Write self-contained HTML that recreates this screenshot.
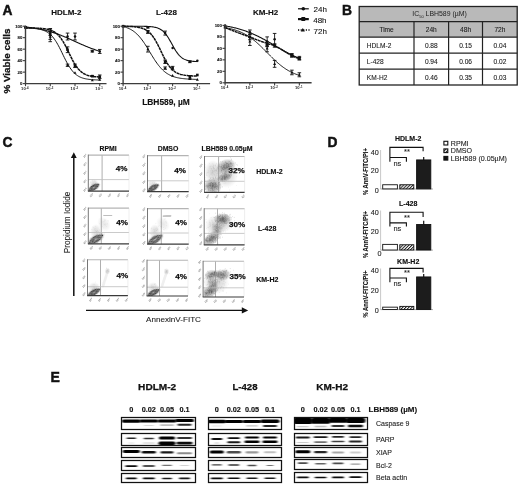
<!DOCTYPE html>
<html lang="en"><head><meta charset="utf-8"><title>Figure</title>
<style>html,body{margin:0;padding:0;background:#fff}svg{display:block}</style></head>
<body>
<svg width="520" height="485" viewBox="0 0 520 485" font-family='"Liberation Sans", sans-serif'>
<defs>
<filter id="b1" x="-30%" y="-100%" width="160%" height="300%"><feGaussianBlur stdDeviation="0.9 0.5"/></filter>
<filter id="b2" x="-30%" y="-100%" width="160%" height="300%"><feGaussianBlur stdDeviation="1.2 0.65"/></filter>
<filter id="bf" x="-20%" y="-20%" width="140%" height="140%"><feGaussianBlur stdDeviation="0.35"/></filter>
<filter id="soft" x="-5%" y="-5%" width="110%" height="110%"><feGaussianBlur stdDeviation="0.3"/></filter>
<pattern id="hatch" width="2.2" height="2.2" patternUnits="userSpaceOnUse" patternTransform="rotate(-45)"><rect width="2.2" height="2.2" fill="#fff"/><rect width="2.2" height="1.0" fill="#222"/></pattern>
</defs>
<rect width="520" height="485" fill="#fff"/>
<text x="2.6" y="14.8" font-size="13.8" font-weight="bold" text-anchor="start" fill="#111" stroke="#111" stroke-width="0.45" >A</text>
<text transform="translate(10.2,93.6) rotate(-90)" font-size="9.9" font-weight="bold" fill="#111" stroke="#111" stroke-width="0.3">% Viable cells</text>
<g transform="translate(0,0)">
<path d="M25.50,26.99 L26.32,27.08 L27.15,27.17 L27.98,27.26 L28.80,27.36 L29.62,27.46 L30.45,27.56 L31.28,27.67 L32.10,27.79 L32.92,27.90 L33.75,28.03 L34.58,28.15 L35.40,28.28 L36.23,28.42 L37.05,28.56 L37.88,28.71 L38.70,28.86 L39.52,29.02 L40.35,29.18 L41.17,29.35 L42.00,29.53 L42.83,29.71 L43.65,29.90 L44.47,30.09 L45.30,30.29 L46.12,30.49 L46.95,30.71 L47.77,30.93 L48.60,31.15 L49.43,31.38 L50.25,31.62 L51.07,31.87 L51.90,32.12 L52.73,32.38 L53.55,32.64 L54.38,32.91 L55.20,33.19 L56.03,33.48 L56.85,33.77 L57.67,34.06 L58.50,34.37 L59.33,34.68 L60.15,34.99 L60.98,35.32 L61.80,35.64 L62.62,35.98 L63.45,36.31 L64.27,36.66 L65.10,37.00 L65.92,37.35 L66.75,37.71 L67.58,38.07 L68.40,38.43 L69.22,38.80 L70.05,39.17 L70.88,39.54 L71.70,39.91 L72.53,40.28 L73.35,40.66 L74.18,41.03 L75.00,41.41 L75.82,41.79 L76.65,42.16 L77.47,42.54 L78.30,42.91 L79.12,43.29 L79.95,43.66 L80.78,44.03 L81.60,44.39 L82.42,44.75 L83.25,45.11 L84.08,45.47 L84.90,45.82 L85.72,46.17 L86.55,46.51 L87.38,46.85 L88.20,47.18 L89.03,47.51 L89.85,47.83 L90.67,48.14 L91.50,48.45 L92.33,48.76 L93.15,49.06 L93.97,49.35 L94.80,49.63 L95.62,49.91 L96.45,50.18 L97.27,50.45 L98.10,50.70 L98.92,50.96 L99.75,51.20" fill="none" stroke="#111" stroke-width="1.1"/>
<circle cx="25.50" cy="27.00" r="1.25" fill="#111"/>
<path d="M50.25,28.50V35.38M48.45,28.50h3.6M48.45,35.38h3.6" stroke="#111" stroke-width="0.9" fill="none"/>
<circle cx="50.25" cy="31.94" r="1.25" fill="#111"/>
<path d="M67.55,33.09V39.98M65.75,33.09h3.6M65.75,39.98h3.6" stroke="#111" stroke-width="0.9" fill="none"/>
<circle cx="67.55" cy="36.53" r="1.25" fill="#111"/>
<path d="M75.00,33.09V39.98M73.20,33.09h3.6M73.20,39.98h3.6" stroke="#111" stroke-width="0.9" fill="none"/>
<circle cx="75.00" cy="36.53" r="1.25" fill="#111"/>
<path d="M92.30,50.31V52.03M90.50,50.31h3.6M90.50,52.03h3.6" stroke="#111" stroke-width="0.9" fill="none"/>
<circle cx="92.30" cy="51.17" r="1.25" fill="#111"/>
<path d="M99.75,49.45V53.46M97.95,49.45h3.6M97.95,53.46h3.6" stroke="#111" stroke-width="0.9" fill="none"/>
<circle cx="99.75" cy="51.46" r="1.25" fill="#111"/>
<path d="M25.50,27.96 L26.32,27.96 L27.15,27.97 L27.98,27.97 L28.80,27.98 L29.62,27.99 L30.45,28.00 L31.28,28.01 L32.10,28.03 L32.92,28.04 L33.75,28.06 L34.58,28.08 L35.40,28.10 L36.23,28.13 L37.05,28.16 L37.88,28.20 L38.70,28.24 L39.52,28.29 L40.35,28.34 L41.17,28.40 L42.00,28.47 L42.83,28.55 L43.65,28.64 L44.47,28.75 L45.30,28.87 L46.12,29.00 L46.95,29.16 L47.77,29.34 L48.60,29.54 L49.43,29.77 L50.25,30.03 L51.07,30.33 L51.90,30.67 L52.73,31.05 L53.55,31.48 L54.38,31.96 L55.20,32.50 L56.03,33.11 L56.85,33.79 L57.67,34.54 L58.50,35.37 L59.33,36.29 L60.15,37.30 L60.98,38.39 L61.80,39.58 L62.62,40.85 L63.45,42.21 L64.27,43.65 L65.10,45.17 L65.92,46.75 L66.75,48.38 L67.58,50.06 L68.40,51.75 L69.22,53.46 L70.05,55.15 L70.88,56.82 L71.70,58.46 L72.53,60.04 L73.35,61.55 L74.18,63.00 L75.00,64.36 L75.82,65.63 L76.65,66.82 L77.47,67.91 L78.30,68.92 L79.12,69.83 L79.95,70.67 L80.78,71.42 L81.60,72.10 L82.42,72.70 L83.25,73.25 L84.08,73.73 L84.90,74.16 L85.72,74.54 L86.55,74.88 L87.38,75.18 L88.20,75.44 L89.03,75.67 L89.85,75.87 L90.67,76.05 L91.50,76.21 L92.33,76.34 L93.15,76.46 L93.97,76.57 L94.80,76.66 L95.62,76.74 L96.45,76.81 L97.27,76.87 L98.10,76.92 L98.92,76.97 L99.75,77.01" fill="none" stroke="#111" stroke-width="1.5" stroke-dasharray="3 0.5"/>
<rect x="24.20" y="26.05" width="2.6" height="2.6" fill="#111"/>
<path d="M50.25,29.07V39.40M48.45,29.07h3.6M48.45,39.40h3.6" stroke="#111" stroke-width="0.9" fill="none"/>
<rect x="48.95" y="32.94" width="2.6" height="2.6" fill="#111"/>
<path d="M67.55,46.86V52.60M65.75,46.86h3.6M65.75,52.60h3.6" stroke="#111" stroke-width="0.9" fill="none"/>
<rect x="66.25" y="48.43" width="2.6" height="2.6" fill="#111"/>
<path d="M75.00,64.08V67.53M73.20,64.08h3.6M73.20,67.53h3.6" stroke="#111" stroke-width="0.9" fill="none"/>
<rect x="73.70" y="64.51" width="2.6" height="2.6" fill="#111"/>
<path d="M92.30,75.68V76.60M90.50,75.68h3.6M90.50,76.60h3.6" stroke="#111" stroke-width="0.9" fill="none"/>
<rect x="91.00" y="74.84" width="2.6" height="2.6" fill="#111"/>
<path d="M99.75,74.99V78.43M97.95,74.99h3.6M97.95,78.43h3.6" stroke="#111" stroke-width="0.9" fill="none"/>
<rect x="98.45" y="75.41" width="2.6" height="2.6" fill="#111"/>
<path d="M25.50,28.07 L26.32,28.09 L27.15,28.11 L27.98,28.14 L28.80,28.17 L29.62,28.20 L30.45,28.24 L31.28,28.29 L32.10,28.34 L32.92,28.39 L33.75,28.46 L34.58,28.53 L35.40,28.62 L36.23,28.71 L37.05,28.82 L37.88,28.94 L38.70,29.08 L39.52,29.24 L40.35,29.42 L41.17,29.62 L42.00,29.85 L42.83,30.11 L43.65,30.40 L44.47,30.72 L45.30,31.09 L46.12,31.50 L46.95,31.96 L47.77,32.48 L48.60,33.05 L49.43,33.68 L50.25,34.39 L51.07,35.16 L51.90,36.02 L52.73,36.95 L53.55,37.97 L54.38,39.07 L55.20,40.25 L56.03,41.52 L56.85,42.88 L57.67,44.31 L58.50,45.81 L59.33,47.37 L60.15,48.99 L60.98,50.65 L61.80,52.34 L62.62,54.04 L63.45,55.74 L64.27,57.43 L65.10,59.09 L65.92,60.70 L66.75,62.27 L67.58,63.77 L68.40,65.20 L69.22,66.55 L70.05,67.82 L70.88,69.01 L71.70,70.11 L72.53,71.13 L73.35,72.06 L74.18,72.91 L75.00,73.69 L75.82,74.39 L76.65,75.03 L77.47,75.60 L78.30,76.12 L79.12,76.58 L79.95,76.99 L80.78,77.35 L81.60,77.68 L82.42,77.97 L83.25,78.23 L84.08,78.46 L84.90,78.66 L85.72,78.84 L86.55,78.99 L87.38,79.13 L88.20,79.26 L89.03,79.37 L89.85,79.46 L90.67,79.54 L91.50,79.62 L92.33,79.68 L93.15,79.74 L93.97,79.79 L94.80,79.84 L95.62,79.87 L96.45,79.91 L97.27,79.94 L98.10,79.97 L98.92,79.99 L99.75,80.01" fill="none" stroke="#151515" stroke-width="1.0"/>
<path d="M25.50,25.85l1.5,2.6h-3z" fill="#111"/>
<path d="M50.25,31.37V41.70M48.45,31.37h3.6M48.45,41.70h3.6" stroke="#111" stroke-width="0.9" fill="none"/>
<path d="M50.25,35.03l1.5,2.6h-3z" fill="#111"/>
<path d="M67.55,64.08V66.38M65.75,64.08h3.6M65.75,66.38h3.6" stroke="#111" stroke-width="0.9" fill="none"/>
<path d="M67.55,63.73l1.5,2.6h-3z" fill="#111"/>
<path d="M75.00,71.19l1.5,2.6h-3z" fill="#111"/>
<path d="M92.30,78.66l1.5,2.6h-3z" fill="#111"/>
<path d="M99.75,78.08l1.5,2.6h-3z" fill="#111"/>
<path d="M25.5,25.7V83.6H106.5" fill="none" stroke="#3c3c3c" stroke-width="1.4"/>
<path d="M22.9,83.60h2.6" stroke="#3c3c3c" stroke-width="1.1"/>
<text x="22.3" y="85.10" font-size="4.3" font-weight="bold" text-anchor="end" fill="#222" stroke="#222" stroke-width="0.14" >0</text>
<path d="M22.9,72.12h2.6" stroke="#3c3c3c" stroke-width="1.1"/>
<text x="22.3" y="73.62" font-size="4.3" font-weight="bold" text-anchor="end" fill="#222" stroke="#222" stroke-width="0.14" >20</text>
<path d="M22.9,60.64h2.6" stroke="#3c3c3c" stroke-width="1.1"/>
<text x="22.3" y="62.14" font-size="4.3" font-weight="bold" text-anchor="end" fill="#222" stroke="#222" stroke-width="0.14" >40</text>
<path d="M22.9,49.16h2.6" stroke="#3c3c3c" stroke-width="1.1"/>
<text x="22.3" y="50.66" font-size="4.3" font-weight="bold" text-anchor="end" fill="#222" stroke="#222" stroke-width="0.14" >60</text>
<path d="M22.9,37.68h2.6" stroke="#3c3c3c" stroke-width="1.1"/>
<text x="22.3" y="39.18" font-size="4.3" font-weight="bold" text-anchor="end" fill="#222" stroke="#222" stroke-width="0.14" >80</text>
<path d="M22.9,26.20h2.6" stroke="#3c3c3c" stroke-width="1.1"/>
<text x="22.3" y="27.70" font-size="4.3" font-weight="bold" text-anchor="end" fill="#222" stroke="#222" stroke-width="0.14" >100</text>
<path d="M25.5,83.6v2.6" stroke="#3c3c3c" stroke-width="1.1"/>
<text x="24.9" y="90.2" font-size="4.1" font-weight="bold" text-anchor="middle" fill="#222">10<tspan dy="-1.4" dx="0.5" font-size="2.8">-4</tspan></text>
<path d="M50.25,83.6v2.6" stroke="#3c3c3c" stroke-width="1.1"/>
<text x="49.65" y="90.2" font-size="4.1" font-weight="bold" text-anchor="middle" fill="#222">10<tspan dy="-1.4" dx="0.5" font-size="2.8">-3</tspan></text>
<path d="M75.0,83.6v2.6" stroke="#3c3c3c" stroke-width="1.1"/>
<text x="74.4" y="90.2" font-size="4.1" font-weight="bold" text-anchor="middle" fill="#222">10<tspan dy="-1.4" dx="0.5" font-size="2.8">-2</tspan></text>
<path d="M99.75,83.6v2.6" stroke="#3c3c3c" stroke-width="1.1"/>
<text x="99.15" y="90.2" font-size="4.1" font-weight="bold" text-anchor="middle" fill="#222">10<tspan dy="-1.4" dx="0.5" font-size="2.8">-1</tspan></text>
</g>
<text x="66.3" y="15.3" font-size="8" font-weight="bold" text-anchor="middle" fill="#111" stroke="#111" stroke-width="0.14" >HDLM-2</text>
<g transform="translate(0,0)">
<path d="M123.10,26.20 L123.92,26.20 L124.75,26.20 L125.58,26.20 L126.40,26.20 L127.22,26.20 L128.05,26.20 L128.88,26.21 L129.70,26.21 L130.52,26.21 L131.35,26.21 L132.17,26.21 L133.00,26.21 L133.82,26.21 L134.65,26.22 L135.47,26.22 L136.30,26.22 L137.12,26.23 L137.95,26.23 L138.78,26.24 L139.60,26.25 L140.43,26.26 L141.25,26.27 L142.07,26.28 L142.90,26.29 L143.72,26.31 L144.55,26.33 L145.38,26.36 L146.20,26.39 L147.03,26.42 L147.85,26.46 L148.67,26.51 L149.50,26.56 L150.32,26.63 L151.15,26.71 L151.97,26.80 L152.80,26.91 L153.62,27.03 L154.45,27.18 L155.27,27.36 L156.10,27.56 L156.93,27.80 L157.75,28.08 L158.57,28.40 L159.40,28.78 L160.22,29.21 L161.05,29.71 L161.88,30.28 L162.70,30.93 L163.52,31.67 L164.35,32.50 L165.18,33.42 L166.00,34.44 L166.82,35.56 L167.65,36.77 L168.47,38.07 L169.30,39.44 L170.12,40.87 L170.95,42.35 L171.78,43.84 L172.60,45.34 L173.42,46.82 L174.25,48.27 L175.07,49.65 L175.90,50.96 L176.72,52.19 L177.55,53.33 L178.38,54.37 L179.20,55.31 L180.02,56.16 L180.85,56.91 L181.68,57.58 L182.50,58.17 L183.32,58.68 L184.15,59.13 L184.97,59.51 L185.80,59.85 L186.62,60.14 L187.45,60.38 L188.27,60.59 L189.10,60.77 L189.93,60.93 L190.75,61.06 L191.57,61.17 L192.40,61.26 L193.22,61.34 L194.05,61.41 L194.88,61.47 L195.70,61.52 L196.52,61.56 L197.35,61.60" fill="none" stroke="#111" stroke-width="1.1"/>
<circle cx="123.10" cy="26.20" r="1.25" fill="#111"/>
<path d="M147.85,26.66V28.04M146.05,26.66h3.6M146.05,28.04h3.6" stroke="#111" stroke-width="0.9" fill="none"/>
<circle cx="147.85" cy="27.35" r="1.25" fill="#111"/>
<path d="M165.15,31.08V35.10M163.35,31.08h3.6M163.35,35.10h3.6" stroke="#111" stroke-width="0.9" fill="none"/>
<circle cx="165.15" cy="33.09" r="1.25" fill="#111"/>
<circle cx="172.60" cy="48.01" r="1.25" fill="#111"/>
<path d="M189.90,60.93V62.65M188.10,60.93h3.6M188.10,62.65h3.6" stroke="#111" stroke-width="0.9" fill="none"/>
<circle cx="189.90" cy="61.79" r="1.25" fill="#111"/>
<circle cx="197.35" cy="60.64" r="1.25" fill="#111"/>
<path d="M123.10,26.29 L123.92,26.30 L124.75,26.32 L125.58,26.33 L126.40,26.35 L127.22,26.37 L128.05,26.40 L128.88,26.43 L129.70,26.46 L130.52,26.50 L131.35,26.55 L132.17,26.60 L133.00,26.66 L133.82,26.72 L134.65,26.80 L135.47,26.89 L136.30,26.99 L137.12,27.10 L137.95,27.24 L138.78,27.39 L139.60,27.56 L140.43,27.75 L141.25,27.97 L142.07,28.23 L142.90,28.51 L143.72,28.84 L144.55,29.20 L145.38,29.62 L146.20,30.08 L147.03,30.61 L147.85,31.20 L148.67,31.85 L149.50,32.58 L150.32,33.39 L151.15,34.29 L151.97,35.27 L152.80,36.34 L153.62,37.50 L154.45,38.75 L155.27,40.09 L156.10,41.52 L156.93,43.03 L157.75,44.60 L158.57,46.23 L159.40,47.91 L160.22,49.62 L161.05,51.34 L161.88,53.06 L162.70,54.77 L163.52,56.44 L164.35,58.06 L165.18,59.62 L166.00,61.11 L166.82,62.52 L167.65,63.84 L168.47,65.08 L169.30,66.22 L170.12,67.28 L170.95,68.24 L171.78,69.11 L172.60,69.91 L173.42,70.62 L174.25,71.26 L175.07,71.84 L175.90,72.35 L176.72,72.81 L177.55,73.21 L178.38,73.57 L179.20,73.89 L180.02,74.17 L180.85,74.41 L181.68,74.63 L182.50,74.82 L183.32,74.98 L184.15,75.13 L184.97,75.26 L185.80,75.37 L186.62,75.47 L187.45,75.55 L188.27,75.63 L189.10,75.69 L189.93,75.75 L190.75,75.80 L191.57,75.84 L192.40,75.88 L193.22,75.91 L194.05,75.94 L194.88,75.97 L195.70,75.99 L196.52,76.01 L197.35,76.03" fill="none" stroke="#111" stroke-width="1.5" stroke-dasharray="3 0.5"/>
<rect x="121.80" y="24.90" width="2.6" height="2.6" fill="#111"/>
<path d="M147.85,30.50V33.38M146.05,30.50h3.6M146.05,33.38h3.6" stroke="#111" stroke-width="0.9" fill="none"/>
<rect x="146.55" y="30.64" width="2.6" height="2.6" fill="#111"/>
<path d="M165.15,60.07V63.51M163.35,60.07h3.6M163.35,63.51h3.6" stroke="#111" stroke-width="0.9" fill="none"/>
<rect x="163.85" y="60.49" width="2.6" height="2.6" fill="#111"/>
<path d="M172.60,66.38V69.82M170.80,66.38h3.6M170.80,69.82h3.6" stroke="#111" stroke-width="0.9" fill="none"/>
<rect x="171.30" y="66.80" width="2.6" height="2.6" fill="#111"/>
<path d="M189.90,75.56V79.01M188.10,75.56h3.6M188.10,79.01h3.6" stroke="#111" stroke-width="0.9" fill="none"/>
<rect x="188.60" y="75.99" width="2.6" height="2.6" fill="#111"/>
<rect x="196.05" y="73.69" width="2.6" height="2.6" fill="#111"/>
<path d="M123.10,26.57 L123.92,26.78 L124.75,27.01 L125.58,27.26 L126.40,27.54 L127.22,27.84 L128.05,28.17 L128.88,28.53 L129.70,28.92 L130.52,29.34 L131.35,29.80 L132.17,30.30 L133.00,30.84 L133.82,31.43 L134.65,32.06 L135.47,32.73 L136.30,33.46 L137.12,34.23 L137.95,35.06 L138.78,35.94 L139.60,36.87 L140.43,37.86 L141.25,38.89 L142.07,39.98 L142.90,41.12 L143.72,42.30 L144.55,43.52 L145.38,44.78 L146.20,46.08 L147.03,47.40 L147.85,48.75 L148.67,50.11 L149.50,51.48 L150.32,52.85 L151.15,54.22 L151.97,55.58 L152.80,56.93 L153.62,58.24 L154.45,59.53 L155.27,60.79 L156.10,62.00 L156.93,63.18 L157.75,64.30 L158.57,65.38 L159.40,66.40 L160.22,67.38 L161.05,68.30 L161.88,69.17 L162.70,69.99 L163.52,70.75 L164.35,71.47 L165.18,72.13 L166.00,72.75 L166.82,73.33 L167.65,73.86 L168.47,74.35 L169.30,74.81 L170.12,75.22 L170.95,75.61 L171.78,75.96 L172.60,76.28 L173.42,76.58 L174.25,76.85 L175.07,77.10 L175.90,77.32 L176.72,77.53 L177.55,77.72 L178.38,77.89 L179.20,78.05 L180.02,78.19 L180.85,78.32 L181.68,78.44 L182.50,78.54 L183.32,78.64 L184.15,78.73 L184.97,78.81 L185.80,78.88 L186.62,78.95 L187.45,79.01 L188.27,79.06 L189.10,79.11 L189.93,79.15 L190.75,79.19 L191.57,79.23 L192.40,79.26 L193.22,79.29 L194.05,79.32 L194.88,79.35 L195.70,79.37 L196.52,79.39 L197.35,79.41" fill="none" stroke="#151515" stroke-width="1.0"/>
<path d="M123.10,24.70l1.5,2.6h-3z" fill="#111"/>
<path d="M147.85,46.29V52.03M146.05,46.29h3.6M146.05,52.03h3.6" stroke="#111" stroke-width="0.9" fill="none"/>
<path d="M147.85,47.66l1.5,2.6h-3z" fill="#111"/>
<path d="M165.15,66.95V69.25M163.35,66.95h3.6M163.35,69.25h3.6" stroke="#111" stroke-width="0.9" fill="none"/>
<path d="M165.15,66.60l1.5,2.6h-3z" fill="#111"/>
<path d="M172.60,74.06l1.5,2.6h-3z" fill="#111"/>
<path d="M189.90,77.51l1.5,2.6h-3z" fill="#111"/>
<path d="M197.35,78.08l1.5,2.6h-3z" fill="#111"/>
<path d="M123.1,25.7V83.6H210.1" fill="none" stroke="#3c3c3c" stroke-width="1.4"/>
<path d="M120.5,83.60h2.6" stroke="#3c3c3c" stroke-width="1.1"/>
<text x="119.89999999999999" y="85.10" font-size="4.3" font-weight="bold" text-anchor="end" fill="#222" stroke="#222" stroke-width="0.14" >0</text>
<path d="M120.5,72.12h2.6" stroke="#3c3c3c" stroke-width="1.1"/>
<text x="119.89999999999999" y="73.62" font-size="4.3" font-weight="bold" text-anchor="end" fill="#222" stroke="#222" stroke-width="0.14" >20</text>
<path d="M120.5,60.64h2.6" stroke="#3c3c3c" stroke-width="1.1"/>
<text x="119.89999999999999" y="62.14" font-size="4.3" font-weight="bold" text-anchor="end" fill="#222" stroke="#222" stroke-width="0.14" >40</text>
<path d="M120.5,49.16h2.6" stroke="#3c3c3c" stroke-width="1.1"/>
<text x="119.89999999999999" y="50.66" font-size="4.3" font-weight="bold" text-anchor="end" fill="#222" stroke="#222" stroke-width="0.14" >60</text>
<path d="M120.5,37.68h2.6" stroke="#3c3c3c" stroke-width="1.1"/>
<text x="119.89999999999999" y="39.18" font-size="4.3" font-weight="bold" text-anchor="end" fill="#222" stroke="#222" stroke-width="0.14" >80</text>
<path d="M120.5,26.20h2.6" stroke="#3c3c3c" stroke-width="1.1"/>
<text x="119.89999999999999" y="27.70" font-size="4.3" font-weight="bold" text-anchor="end" fill="#222" stroke="#222" stroke-width="0.14" >100</text>
<path d="M123.1,83.6v2.6" stroke="#3c3c3c" stroke-width="1.1"/>
<text x="122.5" y="90.2" font-size="4.1" font-weight="bold" text-anchor="middle" fill="#222">10<tspan dy="-1.4" dx="0.5" font-size="2.8">-4</tspan></text>
<path d="M147.85,83.6v2.6" stroke="#3c3c3c" stroke-width="1.1"/>
<text x="147.25" y="90.2" font-size="4.1" font-weight="bold" text-anchor="middle" fill="#222">10<tspan dy="-1.4" dx="0.5" font-size="2.8">-3</tspan></text>
<path d="M172.6,83.6v2.6" stroke="#3c3c3c" stroke-width="1.1"/>
<text x="172.0" y="90.2" font-size="4.1" font-weight="bold" text-anchor="middle" fill="#222">10<tspan dy="-1.4" dx="0.5" font-size="2.8">-2</tspan></text>
<path d="M197.35,83.6v2.6" stroke="#3c3c3c" stroke-width="1.1"/>
<text x="196.75" y="90.2" font-size="4.1" font-weight="bold" text-anchor="middle" fill="#222">10<tspan dy="-1.4" dx="0.5" font-size="2.8">-1</tspan></text>
</g>
<text x="166.4" y="15.3" font-size="8" font-weight="bold" text-anchor="middle" fill="#111" stroke="#111" stroke-width="0.14" >L-428</text>
<g transform="translate(0,-0.8)">
<path d="M225.10,26.71 L225.92,26.84 L226.75,26.98 L227.57,27.13 L228.40,27.28 L229.22,27.43 L230.05,27.59 L230.88,27.76 L231.70,27.93 L232.52,28.11 L233.35,28.29 L234.17,28.48 L235.00,28.68 L235.82,28.88 L236.65,29.09 L237.47,29.31 L238.30,29.53 L239.12,29.76 L239.95,30.00 L240.78,30.24 L241.60,30.49 L242.43,30.75 L243.25,31.02 L244.07,31.29 L244.90,31.57 L245.72,31.86 L246.55,32.16 L247.38,32.46 L248.20,32.78 L249.03,33.10 L249.85,33.43 L250.67,33.76 L251.50,34.11 L252.32,34.46 L253.15,34.82 L253.97,35.19 L254.80,35.56 L255.62,35.94 L256.45,36.33 L257.27,36.73 L258.10,37.14 L258.93,37.55 L259.75,37.96 L260.57,38.39 L261.40,38.82 L262.23,39.25 L263.05,39.70 L263.88,40.14 L264.70,40.60 L265.52,41.05 L266.35,41.51 L267.18,41.98 L268.00,42.45 L268.82,42.92 L269.65,43.40 L270.47,43.88 L271.30,44.36 L272.12,44.84 L272.95,45.32 L273.77,45.81 L274.60,46.29 L275.43,46.77 L276.25,47.26 L277.07,47.74 L277.90,48.22 L278.72,48.70 L279.55,49.18 L280.38,49.66 L281.20,50.13 L282.02,50.60 L282.85,51.07 L283.68,51.53 L284.50,51.98 L285.32,52.44 L286.15,52.88 L286.98,53.33 L287.80,53.76 L288.62,54.19 L289.45,54.62 L290.27,55.03 L291.10,55.44 L291.93,55.85 L292.75,56.25 L293.57,56.64 L294.40,57.02 L295.23,57.39 L296.05,57.76 L296.88,58.12 L297.70,58.47 L298.52,58.82 L299.35,59.15" fill="none" stroke="#111" stroke-width="1.1"/>
<circle cx="225.10" cy="26.20" r="1.25" fill="#111"/>
<path d="M249.85,30.79V35.38M248.05,30.79h3.6M248.05,35.38h3.6" stroke="#111" stroke-width="0.9" fill="none"/>
<circle cx="249.85" cy="33.09" r="1.25" fill="#111"/>
<path d="M267.15,37.68V46.86M265.35,37.68h3.6M265.35,46.86h3.6" stroke="#111" stroke-width="0.9" fill="none"/>
<circle cx="267.15" cy="42.27" r="1.25" fill="#111"/>
<path d="M274.60,34.24V45.72M272.80,34.24h3.6M272.80,45.72h3.6" stroke="#111" stroke-width="0.9" fill="none"/>
<circle cx="274.60" cy="39.98" r="1.25" fill="#111"/>
<path d="M291.90,54.33V57.77M290.10,54.33h3.6M290.10,57.77h3.6" stroke="#111" stroke-width="0.9" fill="none"/>
<circle cx="291.90" cy="56.05" r="1.25" fill="#111"/>
<path d="M299.35,57.20V60.64M297.55,57.20h3.6M297.55,60.64h3.6" stroke="#111" stroke-width="0.9" fill="none"/>
<circle cx="299.35" cy="58.92" r="1.25" fill="#111"/>
<path d="M225.10,28.50 L225.92,28.80 L226.75,29.11 L227.57,29.43 L228.40,29.74 L229.22,30.06 L230.05,30.38 L230.88,30.70 L231.70,31.02 L232.52,31.34 L233.35,31.66 L234.17,31.99 L235.00,32.31 L235.82,32.63 L236.65,32.95 L237.47,33.27 L238.30,33.58 L239.12,33.90 L239.95,34.21 L240.78,34.52 L241.60,34.83 L242.43,35.14 L243.25,35.44 L244.07,35.73 L244.90,36.03 L245.72,36.32 L246.55,36.60 L247.38,36.88 L248.20,37.15 L249.03,37.42 L249.85,37.68 L250.67,38.05 L251.50,38.41 L252.32,38.76 L253.15,39.11 L253.97,39.46 L254.80,39.80 L255.62,40.13 L256.45,40.45 L257.27,40.77 L258.10,41.08 L258.93,41.39 L259.75,41.68 L260.57,41.97 L261.40,42.26 L262.23,42.53 L263.05,42.80 L263.88,43.05 L264.70,43.30 L265.52,43.55 L266.35,43.78 L267.18,44.01 L268.00,44.44 L268.82,44.75 L269.65,44.98 L270.47,45.16 L271.30,45.35 L272.12,45.57 L272.95,45.87 L273.77,46.29 L274.60,46.86 L275.43,47.17 L276.25,47.52 L277.07,47.90 L277.90,48.31 L278.72,48.74 L279.55,49.20 L280.38,49.68 L281.20,50.17 L282.02,50.67 L282.85,51.17 L283.68,51.68 L284.50,52.19 L285.32,52.69 L286.15,53.19 L286.98,53.67 L287.80,54.13 L288.62,54.57 L289.45,54.99 L290.27,55.38 L291.10,55.74 L291.93,56.07 L292.75,56.70 L293.57,57.21 L294.40,57.63 L295.23,57.98 L296.05,58.28 L296.88,58.56 L297.70,58.84 L298.52,59.14 L299.35,59.49" fill="none" stroke="#111" stroke-width="1.5" stroke-dasharray="3 0.5"/>
<rect x="223.80" y="26.62" width="2.6" height="2.6" fill="#111"/>
<path d="M249.85,34.81V40.55M248.05,34.81h3.6M248.05,40.55h3.6" stroke="#111" stroke-width="0.9" fill="none"/>
<rect x="248.55" y="36.38" width="2.6" height="2.6" fill="#111"/>
<path d="M267.15,42.85V47.44M265.35,42.85h3.6M265.35,47.44h3.6" stroke="#111" stroke-width="0.9" fill="none"/>
<rect x="265.85" y="43.84" width="2.6" height="2.6" fill="#111"/>
<path d="M274.60,44.57V48.01M272.80,44.57h3.6M272.80,48.01h3.6" stroke="#111" stroke-width="0.9" fill="none"/>
<rect x="273.30" y="44.99" width="2.6" height="2.6" fill="#111"/>
<path d="M291.90,55.47V57.77M290.10,55.47h3.6M290.10,57.77h3.6" stroke="#111" stroke-width="0.9" fill="none"/>
<rect x="290.60" y="55.32" width="2.6" height="2.6" fill="#111"/>
<path d="M299.35,58.34V60.64M297.55,58.34h3.6M297.55,60.64h3.6" stroke="#111" stroke-width="0.9" fill="none"/>
<rect x="298.05" y="58.19" width="2.6" height="2.6" fill="#111"/>
<path d="M225.10,28.48 L225.92,28.62 L226.75,28.76 L227.57,28.92 L228.40,29.08 L229.22,29.25 L230.05,29.44 L230.88,29.63 L231.70,29.83 L232.52,30.04 L233.35,30.27 L234.17,30.51 L235.00,30.76 L235.82,31.02 L236.65,31.30 L237.47,31.59 L238.30,31.89 L239.12,32.21 L239.95,32.55 L240.78,32.90 L241.60,33.27 L242.43,33.66 L243.25,34.06 L244.07,34.49 L244.90,34.93 L245.72,35.39 L246.55,35.87 L247.38,36.36 L248.20,36.88 L249.03,37.42 L249.85,37.98 L250.67,38.55 L251.50,39.15 L252.32,39.76 L253.15,40.40 L253.97,41.05 L254.80,41.73 L255.62,42.42 L256.45,43.13 L257.27,43.85 L258.10,44.59 L258.93,45.35 L259.75,46.12 L260.57,46.90 L261.40,47.69 L262.23,48.50 L263.05,49.31 L263.88,50.13 L264.70,50.96 L265.52,51.79 L266.35,52.63 L267.18,53.46 L268.00,54.30 L268.82,55.14 L269.65,55.97 L270.47,56.80 L271.30,57.62 L272.12,58.43 L272.95,59.24 L273.77,60.03 L274.60,60.81 L275.43,61.58 L276.25,62.34 L277.07,63.08 L277.90,63.80 L278.72,64.51 L279.55,65.20 L280.38,65.88 L281.20,66.53 L282.02,67.17 L282.85,67.78 L283.68,68.38 L284.50,68.95 L285.32,69.51 L286.15,70.05 L286.98,70.57 L287.80,71.06 L288.62,71.54 L289.45,72.00 L290.27,72.44 L291.10,72.87 L291.93,73.27 L292.75,73.66 L293.57,74.03 L294.40,74.38 L295.23,74.72 L296.05,75.04 L296.88,75.34 L297.70,75.63 L298.52,75.91 L299.35,76.17" fill="none" stroke="#151515" stroke-width="1.0"/>
<path d="M225.10,26.42l1.5,2.6h-3z" fill="#111"/>
<path d="M249.85,38.25V46.29M248.05,38.25h3.6M248.05,46.29h3.6" stroke="#111" stroke-width="0.9" fill="none"/>
<path d="M249.85,40.77l1.5,2.6h-3z" fill="#111"/>
<path d="M267.15,45.72V52.60M265.35,45.72h3.6M265.35,52.60h3.6" stroke="#111" stroke-width="0.9" fill="none"/>
<path d="M267.15,47.66l1.5,2.6h-3z" fill="#111"/>
<path d="M274.60,61.21V68.10M272.80,61.21h3.6M272.80,68.10h3.6" stroke="#111" stroke-width="0.9" fill="none"/>
<path d="M274.60,63.16l1.5,2.6h-3z" fill="#111"/>
<path d="M291.90,70.97V75.56M290.10,70.97h3.6M290.10,75.56h3.6" stroke="#111" stroke-width="0.9" fill="none"/>
<path d="M291.90,71.77l1.5,2.6h-3z" fill="#111"/>
<path d="M299.35,73.55V77.57M297.55,73.55h3.6M297.55,77.57h3.6" stroke="#111" stroke-width="0.9" fill="none"/>
<path d="M299.35,74.06l1.5,2.6h-3z" fill="#111"/>
<path d="M225.1,25.7V83.6H311.6" fill="none" stroke="#3c3c3c" stroke-width="1.4"/>
<path d="M222.5,83.60h2.6" stroke="#3c3c3c" stroke-width="1.1"/>
<text x="221.9" y="85.10" font-size="4.3" font-weight="bold" text-anchor="end" fill="#222" stroke="#222" stroke-width="0.14" >0</text>
<path d="M222.5,72.12h2.6" stroke="#3c3c3c" stroke-width="1.1"/>
<text x="221.9" y="73.62" font-size="4.3" font-weight="bold" text-anchor="end" fill="#222" stroke="#222" stroke-width="0.14" >20</text>
<path d="M222.5,60.64h2.6" stroke="#3c3c3c" stroke-width="1.1"/>
<text x="221.9" y="62.14" font-size="4.3" font-weight="bold" text-anchor="end" fill="#222" stroke="#222" stroke-width="0.14" >40</text>
<path d="M222.5,49.16h2.6" stroke="#3c3c3c" stroke-width="1.1"/>
<text x="221.9" y="50.66" font-size="4.3" font-weight="bold" text-anchor="end" fill="#222" stroke="#222" stroke-width="0.14" >60</text>
<path d="M222.5,37.68h2.6" stroke="#3c3c3c" stroke-width="1.1"/>
<text x="221.9" y="39.18" font-size="4.3" font-weight="bold" text-anchor="end" fill="#222" stroke="#222" stroke-width="0.14" >80</text>
<path d="M222.5,26.20h2.6" stroke="#3c3c3c" stroke-width="1.1"/>
<text x="221.9" y="27.70" font-size="4.3" font-weight="bold" text-anchor="end" fill="#222" stroke="#222" stroke-width="0.14" >100</text>
<path d="M225.1,83.6v2.6" stroke="#3c3c3c" stroke-width="1.1"/>
<text x="224.5" y="90.2" font-size="4.1" font-weight="bold" text-anchor="middle" fill="#222">10<tspan dy="-1.4" dx="0.5" font-size="2.8">-4</tspan></text>
<path d="M249.85,83.6v2.6" stroke="#3c3c3c" stroke-width="1.1"/>
<text x="249.25" y="90.2" font-size="4.1" font-weight="bold" text-anchor="middle" fill="#222">10<tspan dy="-1.4" dx="0.5" font-size="2.8">-3</tspan></text>
<path d="M274.6,83.6v2.6" stroke="#3c3c3c" stroke-width="1.1"/>
<text x="274.0" y="90.2" font-size="4.1" font-weight="bold" text-anchor="middle" fill="#222">10<tspan dy="-1.4" dx="0.5" font-size="2.8">-2</tspan></text>
<path d="M299.35,83.6v2.6" stroke="#3c3c3c" stroke-width="1.1"/>
<text x="298.75" y="90.2" font-size="4.1" font-weight="bold" text-anchor="middle" fill="#222">10<tspan dy="-1.4" dx="0.5" font-size="2.8">-1</tspan></text>
</g>
<text x="265.6" y="15.3" font-size="8" font-weight="bold" text-anchor="middle" fill="#111" stroke="#111" stroke-width="0.14" >KM-H2</text>
<text x="166" y="105.3" font-size="8.4" font-weight="bold" text-anchor="middle" fill="#111" stroke="#111" stroke-width="0.14" >LBH589, µM</text>
<path d="M298,8.8H308.8" stroke="#111" stroke-width="1.2"/><circle cx="303.3" cy="8.8" r="1.8" fill="#111"/>
<path d="M298,19.1H308.8" stroke="#111" stroke-width="2.2"/><rect x="301.2" y="17.1" width="4.2" height="4" rx="0.8" fill="#111"/>
<path d="M298,30H310" stroke="#111" stroke-width="1.3" stroke-dasharray="1.2 1.4"/><path d="M302.8,28l2.1,3.6h-4.2z" fill="#111"/>
<text x="313.6" y="12.2" font-size="8" text-anchor="start" fill="#111" stroke="#111" stroke-width="0.1" >24h</text>
<text x="313.2" y="23.2" font-size="8" text-anchor="start" fill="#111" stroke="#111" stroke-width="0.1" >48h</text>
<text x="313.6" y="33.7" font-size="8" text-anchor="start" fill="#111" stroke="#111" stroke-width="0.1" >72h</text>
<text x="341.9" y="14.8" font-size="13.8" font-weight="bold" text-anchor="start" fill="#111" stroke="#111" stroke-width="0.45" >B</text>
<rect x="359.2" y="6.5" width="158.00000000000006" height="30.6" fill="#b9b9b9"/>
<rect x="359.2" y="6.5" width="158.0" height="78.5" fill="none" stroke="#222" stroke-width="1.3"/>
<path d="M359.2,21.7H517.2" stroke="#222" stroke-width="1.2"/>
<path d="M359.2,37.1H517.2" stroke="#222" stroke-width="1.2"/>
<path d="M359.2,53.2H517.2" stroke="#222" stroke-width="1.2"/>
<path d="M359.2,69.2H517.2" stroke="#222" stroke-width="1.2"/>
<path d="M414,21.7V85.0" stroke="#222" stroke-width="1.2"/>
<path d="M448.6,21.7V85.0" stroke="#222" stroke-width="1.2"/>
<path d="M482.5,21.7V85.0" stroke="#222" stroke-width="1.2"/>
<text x="439.5" y="16.4" font-size="6.9" text-anchor="middle" fill="#222">IC<tspan dy="1.5" font-size="4">50</tspan><tspan dy="-1.5"> LBH589 (µM)</tspan></text>
<text x="386.6" y="32.0" font-size="6.6" text-anchor="middle" fill="#222" stroke="#222" stroke-width="0.1" >Time</text>
<text x="431.3" y="32.0" font-size="6.6" text-anchor="middle" fill="#222" stroke="#222" stroke-width="0.1" >24h</text>
<text x="465.6" y="32.0" font-size="6.6" text-anchor="middle" fill="#222" stroke="#222" stroke-width="0.1" >48h</text>
<text x="499.9" y="32.0" font-size="6.6" text-anchor="middle" fill="#222" stroke="#222" stroke-width="0.1" >72h</text>
<text x="366.8" y="47.6" font-size="6.6" text-anchor="start" fill="#222" stroke="#222" stroke-width="0.1" >HDLM-2</text>
<text x="431.3" y="47.6" font-size="6.6" text-anchor="middle" fill="#222" stroke="#222" stroke-width="0.1" >0.88</text>
<text x="465.6" y="47.6" font-size="6.6" text-anchor="middle" fill="#222" stroke="#222" stroke-width="0.1" >0.15</text>
<text x="499.9" y="47.6" font-size="6.6" text-anchor="middle" fill="#222" stroke="#222" stroke-width="0.1" >0.04</text>
<text x="366.8" y="63.6" font-size="6.6" text-anchor="start" fill="#222" stroke="#222" stroke-width="0.1" >L-428</text>
<text x="431.3" y="63.6" font-size="6.6" text-anchor="middle" fill="#222" stroke="#222" stroke-width="0.1" >0.94</text>
<text x="465.6" y="63.6" font-size="6.6" text-anchor="middle" fill="#222" stroke="#222" stroke-width="0.1" >0.06</text>
<text x="499.9" y="63.6" font-size="6.6" text-anchor="middle" fill="#222" stroke="#222" stroke-width="0.1" >0.02</text>
<text x="366.8" y="79.5" font-size="6.6" text-anchor="start" fill="#222" stroke="#222" stroke-width="0.1" >KM-H2</text>
<text x="431.3" y="79.5" font-size="6.6" text-anchor="middle" fill="#222" stroke="#222" stroke-width="0.1" >0.46</text>
<text x="465.6" y="79.5" font-size="6.6" text-anchor="middle" fill="#222" stroke="#222" stroke-width="0.1" >0.35</text>
<text x="499.9" y="79.5" font-size="6.6" text-anchor="middle" fill="#222" stroke="#222" stroke-width="0.1" >0.03</text>
<text x="2.6" y="147.4" font-size="13.8" font-weight="bold" text-anchor="start" fill="#111" stroke="#111" stroke-width="0.45" >C</text>
<path d="M73.8,296V157" stroke="#111" stroke-width="1.5"/><path d="M73.8,152.2l2.9,5.8h-5.8z" fill="#111"/>
<path d="M86,310.4H243" stroke="#111" stroke-width="1.4"/><path d="M248.2,310.4l-6.4,3.1v-6.2z" fill="#111"/>
<text transform="translate(69.9,253.2) rotate(-90)" font-size="8.2" fill="#222" stroke="#222" stroke-width="0.1">Propidium Iodide</text>
<text x="173.5" y="322" font-size="8.1" text-anchor="middle" fill="#222" stroke="#222" stroke-width="0.1" >AnnexinV-FITC</text>
<text x="108.1" y="150.8" font-size="6.9" font-weight="bold" text-anchor="middle" fill="#111" stroke="#111" stroke-width="0.14" >RPMI</text>
<text x="168" y="151.2" font-size="6.9" font-weight="bold" text-anchor="middle" fill="#111" stroke="#111" stroke-width="0.14" >DMSO</text>
<text x="227" y="151.3" font-size="6.95" font-weight="bold" text-anchor="middle" fill="#111" stroke="#111" stroke-width="0.14" >LBH589 0.05µM</text>
<text x="256.2" y="173.8" font-size="7" font-weight="bold" text-anchor="start" fill="#111" stroke="#111" stroke-width="0.14" >HDLM-2</text>
<text x="258" y="230.6" font-size="7" font-weight="bold" text-anchor="start" fill="#111" stroke="#111" stroke-width="0.14" >L-428</text>
<text x="256.2" y="281.8" font-size="7" font-weight="bold" text-anchor="start" fill="#111" stroke="#111" stroke-width="0.14" >KM-H2</text>
<defs>
<radialGradient id="cg"><stop offset="0" stop-color="#444" stop-opacity=".62"/><stop offset="0.5" stop-color="#555" stop-opacity=".47"/><stop offset="0.8" stop-color="#666" stop-opacity=".25"/><stop offset="1" stop-color="#888" stop-opacity="0"/></radialGradient>
<radialGradient id="hg"><stop offset="0" stop-color="#777" stop-opacity=".35"/><stop offset="0.6" stop-color="#888" stop-opacity=".2"/><stop offset="1" stop-color="#999" stop-opacity="0"/></radialGradient>
</defs>
<g>
<clipPath id="cp1"><rect x="88.6" y="155.4" width="40.7" height="35.7"/></clipPath>
<g clip-path="url(#cp1)">
<ellipse cx="94" cy="184" rx="5" ry="5" transform="rotate(0 94 184)" fill="url(#hg)" opacity="0.8"/>
<g filter="url(#bf)">
<path d="M93.4,182.8h0.45M93.5,184.7h0.45M91.9,184.5h0.45M96.5,183.0h0.45M96.3,183.4h0.45M94.9,183.6h0.45M90.3,182.1h0.45M95.1,182.9h0.45M90.2,187.9h0.45M92.0,185.1h0.45M94.7,184.1h0.45M95.2,185.4h0.45M94.7,183.1h0.45M92.5,180.1h0.45M95.3,181.3h0.45M92.6,185.7h0.45M93.2,184.2h0.45M95.4,183.4h0.45M93.0,186.2h0.45M92.8,181.3h0.45M92.2,183.4h0.45M95.0,187.4h0.45M94.1,181.1h0.45M89.5,184.7h0.45M93.8,185.8h0.45" stroke="#555" stroke-opacity="0.28" stroke-width="0.45" fill="none"/>
</g>
<g transform="rotate(-31 93.8 187.4)" filter="url(#soft)">
<ellipse cx="93.8" cy="187.4" rx="7.00" ry="3.20" fill="#aaa" fill-opacity=".45"/>
<path d="M87.75,187.4Q93.80,183.20 99.85,187.4Q93.80,191.60 87.75,187.4Z" fill="#8e8e8e" fill-opacity=".85" stroke="#222" stroke-width="0.85" stroke-linejoin="round"/>
<path d="M90.33,187.4Q93.80,185.40 97.27,187.4Q93.80,189.40 90.33,187.4Z" fill="#c4c4c4" fill-opacity=".7" stroke="#2a2a2a" stroke-width="0.65"/>
</g>
</g>
<path d="M102.1,155.1V191.1" stroke="#8c8c8c" stroke-width="0.7" fill="none"/>
<path d="M88.3,179.6H129" stroke="#bdbdbd" stroke-width="0.8" fill="none"/>
<path d="M88.3,155.1H129" stroke="#b4b4b4" stroke-width="1.1" fill="none"/>
<path d="M129,155.1V191.1" stroke="#ddd" stroke-width="0.5" fill="none"/>
<path d="M88.3,154.6V191.1" stroke="#666" stroke-width="0.9" fill="none"/>
<path d="M87.89999999999999,191.1H129" stroke="#3a3a3a" stroke-width="1.2" fill="none"/>
<text x="84.9" y="190.8" font-size="2.7" text-anchor="middle" fill="#4a4a4a" transform="rotate(-40 84.9 189.9)">10<tspan dy="-0.9" font-size="1.9">0</tspan></text>
<text x="91.5" y="196.3" font-size="2.7" text-anchor="middle" fill="#4a4a4a" transform="rotate(-40 91.5 195.5)">10<tspan dy="-0.9" font-size="1.9">0</tspan></text>
<text x="84.9" y="182.3" font-size="2.7" text-anchor="middle" fill="#4a4a4a" transform="rotate(-40 84.9 181.4)">10<tspan dy="-0.9" font-size="1.9">1</tspan></text>
<text x="100.5" y="196.3" font-size="2.7" text-anchor="middle" fill="#4a4a4a" transform="rotate(-40 100.5 195.5)">10<tspan dy="-0.9" font-size="1.9">1</tspan></text>
<text x="84.9" y="173.8" font-size="2.7" text-anchor="middle" fill="#4a4a4a" transform="rotate(-40 84.9 172.9)">10<tspan dy="-0.9" font-size="1.9">2</tspan></text>
<text x="109.6" y="196.3" font-size="2.7" text-anchor="middle" fill="#4a4a4a" transform="rotate(-40 109.6 195.5)">10<tspan dy="-0.9" font-size="1.9">2</tspan></text>
<text x="84.9" y="165.3" font-size="2.7" text-anchor="middle" fill="#4a4a4a" transform="rotate(-40 84.9 164.4)">10<tspan dy="-0.9" font-size="1.9">3</tspan></text>
<text x="118.7" y="196.3" font-size="2.7" text-anchor="middle" fill="#4a4a4a" transform="rotate(-40 118.7 195.5)">10<tspan dy="-0.9" font-size="1.9">3</tspan></text>
<text x="84.9" y="156.8" font-size="2.7" text-anchor="middle" fill="#4a4a4a" transform="rotate(-40 84.9 155.9)">10<tspan dy="-0.9" font-size="1.9">4</tspan></text>
<text x="127.7" y="196.3" font-size="2.7" text-anchor="middle" fill="#4a4a4a" transform="rotate(-40 127.7 195.5)">10<tspan dy="-0.9" font-size="1.9">4</tspan></text>
</g>
<text x="127.4" y="171.4" font-size="8.1" font-weight="bold" text-anchor="end" fill="#111" stroke="#111" stroke-width="0.25" >4%</text>
<g>
<clipPath id="cp2"><rect x="147.8" y="155.9" width="41.2" height="35.8"/></clipPath>
<g clip-path="url(#cp2)">
<ellipse cx="153" cy="185" rx="5" ry="5" transform="rotate(0 153 185)" fill="url(#hg)" opacity="0.8"/>
<g filter="url(#bf)">
<path d="M154.1,185.1h0.45M149.7,183.1h0.45M154.5,182.9h0.45M156.2,184.2h0.45M153.3,187.9h0.45M154.4,186.4h0.45M152.0,187.8h0.45M150.8,186.2h0.45M155.9,189.6h0.45M149.7,184.5h0.45M156.2,183.7h0.45M148.7,190.7h0.45M153.8,186.7h0.45M150.5,182.8h0.45M155.5,184.6h0.45M153.6,184.0h0.45M156.6,183.6h0.45M154.2,183.8h0.45M149.5,182.1h0.45M155.1,183.8h0.45M148.6,186.4h0.45M154.9,189.1h0.45M152.6,182.7h0.45M150.0,181.4h0.45M154.2,185.3h0.45" stroke="#555" stroke-opacity="0.28" stroke-width="0.45" fill="none"/>
</g>
<g transform="rotate(-31 153.2 187.9)" filter="url(#soft)">
<ellipse cx="153.2" cy="187.9" rx="7.00" ry="3.20" fill="#aaa" fill-opacity=".45"/>
<path d="M147.15,187.9Q153.20,183.70 159.25,187.9Q153.20,192.10 147.15,187.9Z" fill="#8e8e8e" fill-opacity=".85" stroke="#222" stroke-width="0.85" stroke-linejoin="round"/>
<path d="M149.73,187.9Q153.20,185.90 156.67,187.9Q153.20,189.90 149.73,187.9Z" fill="#c4c4c4" fill-opacity=".7" stroke="#2a2a2a" stroke-width="0.65"/>
</g>
</g>
<path d="M161.6,155.6V191.7" stroke="#8c8c8c" stroke-width="0.7" fill="none"/>
<path d="M147.5,180.8H188.7" stroke="#bdbdbd" stroke-width="0.8" fill="none"/>
<path d="M147.5,155.6H188.7" stroke="#b4b4b4" stroke-width="1.1" fill="none"/>
<path d="M188.7,155.6V191.7" stroke="#ddd" stroke-width="0.5" fill="none"/>
<path d="M147.5,155.1V191.7" stroke="#666" stroke-width="0.9" fill="none"/>
<path d="M147.1,191.7H188.7" stroke="#3a3a3a" stroke-width="1.2" fill="none"/>
<text x="144.1" y="191.4" font-size="2.7" text-anchor="middle" fill="#4a4a4a" transform="rotate(-40 144.1 190.5)">10<tspan dy="-0.9" font-size="1.9">0</tspan></text>
<text x="150.7" y="196.9" font-size="2.7" text-anchor="middle" fill="#4a4a4a" transform="rotate(-40 150.7 196.1)">10<tspan dy="-0.9" font-size="1.9">0</tspan></text>
<text x="144.1" y="182.9" font-size="2.7" text-anchor="middle" fill="#4a4a4a" transform="rotate(-40 144.1 182.0)">10<tspan dy="-0.9" font-size="1.9">1</tspan></text>
<text x="159.9" y="196.9" font-size="2.7" text-anchor="middle" fill="#4a4a4a" transform="rotate(-40 159.9 196.1)">10<tspan dy="-0.9" font-size="1.9">1</tspan></text>
<text x="144.1" y="174.3" font-size="2.7" text-anchor="middle" fill="#4a4a4a" transform="rotate(-40 144.1 173.4)">10<tspan dy="-0.9" font-size="1.9">2</tspan></text>
<text x="169.0" y="196.9" font-size="2.7" text-anchor="middle" fill="#4a4a4a" transform="rotate(-40 169.0 196.1)">10<tspan dy="-0.9" font-size="1.9">2</tspan></text>
<text x="144.1" y="165.8" font-size="2.7" text-anchor="middle" fill="#4a4a4a" transform="rotate(-40 144.1 164.9)">10<tspan dy="-0.9" font-size="1.9">3</tspan></text>
<text x="178.2" y="196.9" font-size="2.7" text-anchor="middle" fill="#4a4a4a" transform="rotate(-40 178.2 196.1)">10<tspan dy="-0.9" font-size="1.9">3</tspan></text>
<text x="144.1" y="157.3" font-size="2.7" text-anchor="middle" fill="#4a4a4a" transform="rotate(-40 144.1 156.4)">10<tspan dy="-0.9" font-size="1.9">4</tspan></text>
<text x="187.4" y="196.9" font-size="2.7" text-anchor="middle" fill="#4a4a4a" transform="rotate(-40 187.4 196.1)">10<tspan dy="-0.9" font-size="1.9">4</tspan></text>
</g>
<text x="186" y="173.3" font-size="8.1" font-weight="bold" text-anchor="end" fill="#111" stroke="#111" stroke-width="0.25" >4%</text>
<g>
<clipPath id="cp3"><rect x="204.8" y="156.8" width="40.1" height="35.5"/></clipPath>
<g clip-path="url(#cp3)">
<ellipse cx="213" cy="172" rx="9" ry="12" transform="rotate(0 213 172)" fill="url(#hg)" opacity="1"/>
<g filter="url(#bf)">
<path d="M214.3,168.5h0.45M213.5,165.8h0.45M210.3,174.2h0.45M217.2,171.9h0.45M209.4,166.9h0.45M218.9,174.4h0.45M207.4,172.7h0.45M212.4,173.6h0.45M218.7,177.5h0.45M218.1,178.8h0.45M209.8,168.6h0.45M217.6,167.4h0.45M214.4,171.2h0.45M213.6,168.9h0.45M212.3,170.5h0.45M215.3,172.0h0.45M216.1,168.9h0.45M221.1,170.2h0.45M211.3,174.0h0.45M212.9,167.0h0.45M211.6,169.9h0.45M220.4,185.8h0.45M208.4,170.7h0.45M214.6,170.7h0.45M211.3,168.5h0.45M214.1,174.8h0.45M222.8,170.1h0.45M210.8,172.5h0.45M212.1,172.3h0.45M202.0,174.6h0.45M217.1,178.3h0.45M212.7,166.9h0.45M216.5,163.9h0.45M206.1,173.9h0.45M211.6,168.6h0.45M217.4,186.5h0.45M217.4,179.8h0.45M215.8,180.1h0.45M213.7,165.5h0.45M212.4,171.0h0.45M216.2,171.2h0.45M212.6,163.7h0.45M217.2,173.6h0.45M224.1,178.2h0.45M216.7,173.4h0.45M213.5,168.2h0.45M213.9,168.6h0.45M206.8,180.2h0.45M215.5,177.2h0.45M208.8,179.9h0.45M218.1,168.0h0.45M219.0,177.1h0.45M213.0,178.2h0.45M216.1,163.4h0.45M209.4,163.6h0.45M217.0,173.0h0.45M205.0,164.4h0.45M212.6,175.3h0.45M214.6,169.8h0.45M219.1,177.5h0.45M217.6,164.0h0.45M218.9,173.0h0.45M210.0,166.5h0.45M213.5,171.3h0.45M218.8,173.4h0.45M203.7,174.1h0.45M205.5,167.6h0.45M214.3,175.3h0.45M213.0,167.5h0.45M213.3,164.8h0.45M212.8,166.4h0.45M219.0,163.3h0.45M210.3,167.2h0.45M205.4,177.9h0.45M205.1,166.2h0.45M208.0,172.1h0.45M212.2,172.2h0.45M210.6,170.7h0.45M220.3,171.8h0.45M215.2,166.6h0.45M212.2,178.8h0.45M210.8,166.2h0.45M206.3,175.2h0.45M217.1,167.7h0.45M213.0,167.7h0.45M213.7,178.4h0.45M206.7,175.5h0.45M216.7,175.1h0.45M209.3,176.2h0.45M206.8,172.6h0.45" stroke="#555" stroke-opacity="0.28" stroke-width="0.45" fill="none"/>
</g>
<ellipse cx="226" cy="176" rx="12" ry="12" transform="rotate(0 226 176)" fill="url(#hg)" opacity="0.9"/>
<g filter="url(#bf)">
<path d="M219.6,174.0h0.45M213.3,174.2h0.45M222.5,186.5h0.45M229.9,177.5h0.45M214.0,180.7h0.45M227.6,178.5h0.45M230.2,172.0h0.45M229.6,174.2h0.45M233.2,172.4h0.45M228.4,187.3h0.45M230.8,168.9h0.45M224.4,178.5h0.45M236.5,185.5h0.45M228.5,162.9h0.45M221.0,172.3h0.45M236.2,176.6h0.45M229.0,171.1h0.45M221.1,176.5h0.45M227.6,171.5h0.45M225.8,177.1h0.45M220.5,177.9h0.45M230.8,175.5h0.45M221.4,180.5h0.45M240.4,169.8h0.45M229.4,190.0h0.45M229.4,173.4h0.45M235.1,173.7h0.45M225.6,173.2h0.45M215.5,170.4h0.45M227.8,179.8h0.45M233.2,166.2h0.45M218.4,179.6h0.45M227.6,175.0h0.45M223.8,181.3h0.45M237.5,170.4h0.45M219.6,183.3h0.45M235.2,170.7h0.45M235.8,171.6h0.45M221.3,174.6h0.45M214.3,180.0h0.45M225.7,173.2h0.45M222.1,176.7h0.45M228.5,174.0h0.45M229.4,174.9h0.45M224.3,171.7h0.45M226.3,180.5h0.45M222.6,176.0h0.45M225.4,175.2h0.45M226.0,175.1h0.45M225.3,182.8h0.45M228.3,170.3h0.45M228.3,177.0h0.45M228.4,181.2h0.45M215.8,175.7h0.45M221.0,172.0h0.45M220.1,190.2h0.45M220.4,167.5h0.45M223.9,183.4h0.45M221.9,173.2h0.45M228.7,175.0h0.45" stroke="#555" stroke-opacity="0.28" stroke-width="0.45" fill="none"/>
</g>
<ellipse cx="212.6" cy="186" rx="9.5" ry="8" transform="rotate(0 212.6 186)" fill="url(#cg)" opacity="0.95"/>
<g filter="url(#bf)">
<path d="M218.5,183.6h0.5M212.5,184.0h0.5M219.2,182.7h0.5M216.7,189.6h0.5M212.0,183.5h0.5M211.4,182.4h0.5M215.0,182.9h0.5M211.8,177.4h0.5M217.5,186.7h0.5M213.0,177.3h0.5M211.2,183.1h0.5M216.5,186.0h0.5M207.9,185.4h0.5M214.0,182.2h0.5M215.7,185.9h0.5M216.0,184.2h0.5M213.4,185.8h0.5M211.6,183.7h0.5M208.4,188.1h0.5M212.6,190.9h0.5M210.9,192.7h0.5M209.9,184.1h0.5M214.9,186.2h0.5M211.7,190.8h0.5M219.9,184.3h0.5M217.0,189.0h0.5M211.9,192.1h0.5M215.7,182.9h0.5M205.0,186.2h0.5M215.1,191.9h0.5M205.3,189.6h0.5M210.1,190.7h0.5M212.7,185.2h0.5M215.1,183.6h0.5M218.6,182.1h0.5M207.4,187.7h0.5M208.4,189.6h0.5M212.3,186.0h0.5M214.6,191.3h0.5M207.7,186.1h0.5M211.8,187.0h0.5M212.3,188.6h0.5M215.4,184.8h0.5M212.2,188.3h0.5M211.9,195.1h0.5M208.7,185.9h0.5M206.6,185.3h0.5M213.2,190.6h0.5M211.6,187.1h0.5M214.4,183.9h0.5M212.5,188.9h0.5M212.0,186.2h0.5M215.5,185.0h0.5M209.7,190.6h0.5M211.1,188.5h0.5M208.2,186.4h0.5M210.6,185.6h0.5M214.7,187.4h0.5M221.9,187.1h0.5M217.0,185.6h0.5M217.1,194.0h0.5M209.6,185.2h0.5M215.0,178.1h0.5M213.9,181.7h0.5M215.7,182.8h0.5M214.6,186.5h0.5M214.6,189.6h0.5M217.3,189.4h0.5M213.6,178.9h0.5M211.7,185.9h0.5M217.2,185.9h0.5M209.4,185.1h0.5M214.9,183.6h0.5M209.5,180.1h0.5M219.3,185.9h0.5M213.7,187.4h0.5M218.2,188.4h0.5M215.3,187.6h0.5M209.8,183.6h0.5M217.9,186.0h0.5M209.9,183.3h0.5M212.4,185.0h0.5M218.7,182.2h0.5M210.5,178.3h0.5M212.6,183.4h0.5M210.0,186.2h0.5M205.6,180.0h0.5M218.0,190.1h0.5M206.6,191.4h0.5M217.3,187.5h0.5M212.4,187.1h0.5M212.1,189.7h0.5M212.7,190.8h0.5M212.3,185.0h0.5M214.5,186.8h0.5M209.0,185.5h0.5M210.7,180.7h0.5M215.7,186.4h0.5M210.7,188.4h0.5M208.9,187.2h0.5M213.8,184.3h0.5M214.9,178.9h0.5M209.8,186.0h0.5M223.8,192.3h0.5M210.5,185.4h0.5M213.2,184.6h0.5M211.6,184.8h0.5M212.8,183.4h0.5M205.0,189.0h0.5M212.6,189.5h0.5M208.4,183.9h0.5M210.0,183.9h0.5M215.6,185.0h0.5M214.6,186.4h0.5M207.0,186.1h0.5M214.4,187.8h0.5M212.2,183.5h0.5M209.1,183.8h0.5M220.0,187.9h0.5M213.2,186.5h0.5M218.7,184.9h0.5M216.2,188.3h0.5M212.5,186.0h0.5M205.5,181.2h0.5M216.2,191.9h0.5M215.6,186.4h0.5M214.4,184.8h0.5M206.6,186.7h0.5M218.6,187.9h0.5M208.5,190.6h0.5M207.7,184.9h0.5M219.4,184.6h0.5M213.6,178.5h0.5M210.5,188.3h0.5M214.7,184.2h0.5M208.6,189.9h0.5M213.8,185.2h0.5M207.4,186.7h0.5M210.4,184.5h0.5M212.1,186.3h0.5M211.2,182.5h0.5M218.1,187.2h0.5M216.0,188.5h0.5M212.9,183.5h0.5M218.6,187.3h0.5M212.3,185.3h0.5M206.6,185.9h0.5M209.9,184.8h0.5M208.1,192.6h0.5M212.8,185.1h0.5M210.4,183.0h0.5M211.5,188.0h0.5M214.5,191.3h0.5M209.9,186.1h0.5M216.0,186.5h0.5M213.8,188.2h0.5M213.8,180.4h0.5M209.9,178.0h0.5M210.0,185.9h0.5M213.3,182.6h0.5M207.7,193.1h0.5M215.0,183.3h0.5M215.1,177.2h0.5M213.4,185.1h0.5M216.3,184.8h0.5M219.2,190.2h0.5M211.1,197.6h0.5M215.8,187.3h0.5M216.3,178.8h0.5M212.6,186.9h0.5" stroke="#333" stroke-opacity="0.45" stroke-width="0.5" fill="none"/>
</g>
<ellipse cx="226" cy="166.5" rx="10.5" ry="7.5" transform="rotate(-20 226 166.5)" fill="url(#cg)" opacity="0.85"/>
<g filter="url(#bf)">
<path d="M223.8,169.6h0.5M223.2,165.7h0.5M226.2,166.3h0.5M225.2,164.3h0.5M228.2,166.1h0.5M228.9,165.9h0.5M220.9,164.3h0.5M228.1,168.4h0.5M230.8,163.9h0.5M219.1,164.6h0.5M227.5,163.5h0.5M226.9,166.6h0.5M219.2,166.3h0.5M226.1,167.2h0.5M227.5,165.7h0.5M229.0,166.4h0.5M225.8,172.4h0.5M224.1,165.3h0.5M231.9,165.4h0.5M225.5,162.4h0.5M224.6,165.0h0.5M233.4,163.7h0.5M231.4,166.5h0.5M226.9,166.4h0.5M226.5,163.2h0.5M236.5,164.6h0.5M223.5,166.0h0.5M221.3,166.8h0.5M228.5,166.4h0.5M228.3,169.9h0.5M229.4,169.5h0.5M222.9,169.1h0.5M224.2,164.8h0.5M226.4,167.5h0.5M228.4,161.3h0.5M226.0,165.5h0.5M231.5,163.8h0.5M220.3,161.7h0.5M235.7,168.4h0.5M225.8,165.4h0.5M230.3,163.2h0.5M224.8,169.8h0.5M226.5,163.5h0.5M221.2,171.0h0.5M225.9,171.8h0.5M224.9,168.1h0.5M228.0,167.7h0.5M222.1,169.0h0.5M225.8,168.4h0.5M226.1,164.4h0.5M231.2,160.0h0.5M222.5,168.9h0.5M215.1,165.2h0.5M222.8,167.7h0.5M228.3,169.4h0.5M228.0,165.8h0.5M217.9,168.6h0.5M231.3,169.7h0.5M229.6,164.7h0.5M228.1,164.5h0.5M231.8,165.1h0.5M229.9,166.2h0.5M229.2,167.6h0.5M225.5,161.9h0.5M228.0,166.2h0.5M221.0,170.5h0.5M226.9,163.6h0.5M227.9,164.4h0.5M225.8,162.9h0.5M224.3,168.6h0.5M229.9,164.9h0.5M224.8,168.5h0.5M224.9,165.2h0.5M227.6,169.2h0.5M227.9,165.3h0.5M221.6,166.0h0.5M224.8,167.9h0.5M229.5,161.6h0.5M223.0,166.4h0.5M222.1,161.6h0.5M223.8,164.0h0.5M223.1,165.3h0.5M235.8,169.9h0.5M224.1,165.8h0.5M225.6,168.5h0.5M235.5,162.9h0.5M218.7,166.8h0.5M218.4,166.1h0.5M223.5,167.0h0.5M231.6,164.2h0.5M219.9,173.3h0.5M231.2,162.6h0.5M222.4,165.4h0.5M228.2,164.0h0.5M216.0,170.9h0.5M230.0,163.1h0.5M229.9,171.8h0.5M226.7,164.9h0.5M237.3,165.1h0.5M224.5,166.9h0.5M229.9,166.3h0.5M231.1,166.8h0.5M227.2,167.5h0.5M226.7,168.1h0.5M219.0,166.0h0.5M227.3,167.5h0.5M226.9,163.5h0.5M221.7,168.3h0.5M228.4,164.2h0.5M224.5,172.8h0.5M231.5,163.6h0.5M226.1,167.2h0.5M227.2,167.2h0.5M221.5,170.1h0.5M223.4,169.1h0.5M220.9,166.6h0.5M220.2,166.8h0.5M221.5,167.1h0.5M232.1,163.8h0.5M222.8,167.5h0.5M226.7,171.0h0.5M223.3,167.0h0.5M223.9,167.0h0.5M229.2,163.3h0.5M230.0,163.5h0.5M224.7,167.0h0.5M224.8,167.8h0.5M225.2,171.5h0.5M224.5,167.1h0.5M221.7,168.1h0.5M228.3,166.1h0.5M235.2,170.3h0.5M225.1,171.8h0.5M230.3,157.7h0.5M215.0,170.1h0.5M228.3,166.5h0.5M228.4,171.7h0.5M229.8,164.1h0.5M226.1,168.1h0.5M228.8,166.8h0.5M227.0,167.5h0.5M216.1,170.1h0.5M226.9,164.1h0.5M222.1,168.0h0.5M228.7,165.1h0.5M231.5,159.1h0.5M222.0,173.2h0.5M229.8,161.0h0.5M230.1,162.8h0.5M223.3,169.4h0.5" stroke="#333" stroke-opacity="0.45" stroke-width="0.5" fill="none"/>
</g>
<ellipse cx="224.5" cy="177.2" rx="8.5" ry="4.8" transform="rotate(-20 224.5 177.2)" fill="url(#cg)" opacity="0.8"/>
<g filter="url(#bf)">
<path d="M227.7,177.9h0.5M218.0,180.8h0.5M233.4,171.3h0.5M222.0,179.2h0.5M225.3,178.3h0.5M229.2,176.0h0.5M220.6,176.0h0.5M222.4,177.4h0.5M224.5,177.8h0.5M225.7,178.1h0.5M217.9,182.9h0.5M220.0,179.8h0.5M224.4,177.1h0.5M226.5,176.4h0.5M221.7,179.2h0.5M216.9,179.6h0.5M226.2,175.8h0.5M224.1,177.6h0.5M227.8,176.2h0.5M227.1,175.4h0.5M225.3,174.7h0.5M222.5,178.4h0.5M221.6,179.4h0.5M230.1,172.6h0.5M224.6,176.2h0.5M228.7,174.6h0.5M228.8,178.2h0.5M222.2,177.1h0.5M229.6,175.6h0.5M221.4,178.7h0.5M222.1,179.4h0.5M229.9,176.8h0.5M224.6,173.4h0.5M228.7,175.4h0.5M222.3,177.1h0.5M230.3,174.5h0.5M229.0,175.8h0.5M226.3,177.0h0.5M226.0,174.5h0.5M219.4,178.8h0.5M225.4,178.0h0.5M223.4,176.1h0.5M231.6,174.1h0.5M225.7,179.6h0.5M231.4,175.1h0.5M224.4,179.2h0.5M224.3,179.2h0.5M224.8,176.3h0.5M224.6,176.7h0.5M221.5,175.6h0.5M222.2,181.0h0.5M223.8,178.7h0.5M220.9,178.8h0.5M225.5,179.0h0.5M224.0,174.8h0.5M226.9,176.8h0.5M225.0,177.3h0.5M224.3,176.0h0.5M224.2,181.5h0.5M224.4,178.8h0.5M226.8,177.6h0.5M225.0,173.2h0.5M220.8,180.2h0.5M219.5,182.8h0.5M217.8,178.5h0.5M222.2,181.1h0.5M219.2,177.6h0.5M221.7,178.6h0.5M225.7,174.5h0.5M231.4,173.4h0.5" stroke="#333" stroke-opacity="0.45" stroke-width="0.5" fill="none"/>
</g>
</g>
<path d="M218.6,156.5V192.3" stroke="#8c8c8c" stroke-width="0.7" fill="none"/>
<path d="M204.5,181.3H244.6" stroke="#bdbdbd" stroke-width="0.8" fill="none"/>
<path d="M204.5,156.5H244.6" stroke="#b4b4b4" stroke-width="1.1" fill="none"/>
<path d="M244.6,156.5V192.3" stroke="#ddd" stroke-width="0.5" fill="none"/>
<path d="M204.5,156.0V192.3" stroke="#666" stroke-width="0.9" fill="none"/>
<path d="M204.1,192.3H244.6" stroke="#3a3a3a" stroke-width="1.2" fill="none"/>
<text x="201.1" y="192.0" font-size="2.7" text-anchor="middle" fill="#4a4a4a" transform="rotate(-40 201.1 191.1)">10<tspan dy="-0.9" font-size="1.9">0</tspan></text>
<text x="207.7" y="197.5" font-size="2.7" text-anchor="middle" fill="#4a4a4a" transform="rotate(-40 207.7 196.7)">10<tspan dy="-0.9" font-size="1.9">0</tspan></text>
<text x="201.1" y="183.6" font-size="2.7" text-anchor="middle" fill="#4a4a4a" transform="rotate(-40 201.1 182.7)">10<tspan dy="-0.9" font-size="1.9">1</tspan></text>
<text x="216.6" y="197.5" font-size="2.7" text-anchor="middle" fill="#4a4a4a" transform="rotate(-40 216.6 196.7)">10<tspan dy="-0.9" font-size="1.9">1</tspan></text>
<text x="201.1" y="175.1" font-size="2.7" text-anchor="middle" fill="#4a4a4a" transform="rotate(-40 201.1 174.2)">10<tspan dy="-0.9" font-size="1.9">2</tspan></text>
<text x="225.5" y="197.5" font-size="2.7" text-anchor="middle" fill="#4a4a4a" transform="rotate(-40 225.5 196.7)">10<tspan dy="-0.9" font-size="1.9">2</tspan></text>
<text x="201.1" y="166.7" font-size="2.7" text-anchor="middle" fill="#4a4a4a" transform="rotate(-40 201.1 165.8)">10<tspan dy="-0.9" font-size="1.9">3</tspan></text>
<text x="234.4" y="197.5" font-size="2.7" text-anchor="middle" fill="#4a4a4a" transform="rotate(-40 234.4 196.7)">10<tspan dy="-0.9" font-size="1.9">3</tspan></text>
<text x="201.1" y="158.2" font-size="2.7" text-anchor="middle" fill="#4a4a4a" transform="rotate(-40 201.1 157.3)">10<tspan dy="-0.9" font-size="1.9">4</tspan></text>
<text x="243.3" y="197.5" font-size="2.7" text-anchor="middle" fill="#4a4a4a" transform="rotate(-40 243.3 196.7)">10<tspan dy="-0.9" font-size="1.9">4</tspan></text>
</g>
<text x="244.8" y="172.7" font-size="8.1" font-weight="bold" text-anchor="end" fill="#111" stroke="#111" stroke-width="0.25" >32%</text>
<g>
<clipPath id="cp4"><rect x="88.6" y="208.4" width="40.7" height="35.4"/></clipPath>
<g clip-path="url(#cp4)">
<ellipse cx="96" cy="232" rx="6" ry="8" transform="rotate(0 96 232)" fill="url(#hg)" opacity="0.8"/>
<g filter="url(#bf)">
<path d="M96.4,231.3h0.45M100.9,226.9h0.45M95.2,230.4h0.45M96.8,231.8h0.45M94.6,236.8h0.45M94.6,237.6h0.45M99.3,230.1h0.45M92.7,227.0h0.45M98.4,238.9h0.45M101.0,229.1h0.45M101.6,236.4h0.45M97.4,230.5h0.45M96.5,231.4h0.45M98.8,237.4h0.45M92.6,237.0h0.45M94.5,234.2h0.45M97.0,231.0h0.45M96.1,234.4h0.45M94.8,228.6h0.45M98.1,231.6h0.45M95.1,226.4h0.45M94.4,229.7h0.45M99.1,233.0h0.45M98.2,236.0h0.45M98.7,231.3h0.45M91.7,229.6h0.45M93.6,227.4h0.45M94.2,232.6h0.45M96.8,233.2h0.45M96.7,234.0h0.45" stroke="#555" stroke-opacity="0.28" stroke-width="0.45" fill="none"/>
</g>
<ellipse cx="104" cy="224" rx="6" ry="8" transform="rotate(-40 104 224)" fill="url(#hg)" opacity="0.5"/>
<g filter="url(#bf)">
<path d="M105.8,224.0h0.45M104.6,233.9h0.45M107.1,223.9h0.45M99.2,223.7h0.45M105.3,220.1h0.45M101.1,218.4h0.45M103.6,215.4h0.45M103.6,221.6h0.45M103.0,228.0h0.45M107.0,220.7h0.45M108.2,220.9h0.45M102.5,230.0h0.45M102.2,226.4h0.45M101.8,221.9h0.45M104.9,225.0h0.45M104.5,224.5h0.45M104.6,221.3h0.45M106.6,226.5h0.45M99.9,218.9h0.45M104.3,220.0h0.45" stroke="#555" stroke-opacity="0.28" stroke-width="0.45" fill="none"/>
</g>
<path d="M104.4,215.7L111.2,215.4" stroke="#666" stroke-opacity="0.42" stroke-width="2.2" stroke-linecap="round" filter="url(#bf)"/>
<g transform="rotate(-31 95.8 239.2)" filter="url(#soft)">
<ellipse cx="95.8" cy="239.2" rx="9.50" ry="4.16" fill="#aaa" fill-opacity=".45"/>
<path d="M87.59,239.2Q95.80,233.74 104.01,239.2Q95.80,244.66 87.59,239.2Z" fill="#8e8e8e" fill-opacity=".85" stroke="#222" stroke-width="0.85" stroke-linejoin="round"/>
<path d="M91.09,239.2Q95.80,236.60 100.51,239.2Q95.80,241.80 91.09,239.2Z" fill="#c4c4c4" fill-opacity=".7" stroke="#2a2a2a" stroke-width="0.65"/>
</g>
</g>
<path d="M101.3,208.1V243.8" stroke="#8c8c8c" stroke-width="0.7" fill="none"/>
<path d="M88.3,232.5H129" stroke="#bdbdbd" stroke-width="0.8" fill="none"/>
<path d="M88.3,208.1H129" stroke="#b4b4b4" stroke-width="1.1" fill="none"/>
<path d="M129,208.1V243.8" stroke="#ddd" stroke-width="0.5" fill="none"/>
<path d="M88.3,207.6V243.8" stroke="#666" stroke-width="0.9" fill="none"/>
<path d="M87.89999999999999,243.8H129" stroke="#3a3a3a" stroke-width="1.2" fill="none"/>
<text x="84.9" y="243.5" font-size="2.7" text-anchor="middle" fill="#4a4a4a" transform="rotate(-40 84.9 242.6)">10<tspan dy="-0.9" font-size="1.9">0</tspan></text>
<text x="91.5" y="249.0" font-size="2.7" text-anchor="middle" fill="#4a4a4a" transform="rotate(-40 91.5 248.2)">10<tspan dy="-0.9" font-size="1.9">0</tspan></text>
<text x="84.9" y="235.1" font-size="2.7" text-anchor="middle" fill="#4a4a4a" transform="rotate(-40 84.9 234.2)">10<tspan dy="-0.9" font-size="1.9">1</tspan></text>
<text x="100.5" y="249.0" font-size="2.7" text-anchor="middle" fill="#4a4a4a" transform="rotate(-40 100.5 248.2)">10<tspan dy="-0.9" font-size="1.9">1</tspan></text>
<text x="84.9" y="226.7" font-size="2.7" text-anchor="middle" fill="#4a4a4a" transform="rotate(-40 84.9 225.8)">10<tspan dy="-0.9" font-size="1.9">2</tspan></text>
<text x="109.6" y="249.0" font-size="2.7" text-anchor="middle" fill="#4a4a4a" transform="rotate(-40 109.6 248.2)">10<tspan dy="-0.9" font-size="1.9">2</tspan></text>
<text x="84.9" y="218.2" font-size="2.7" text-anchor="middle" fill="#4a4a4a" transform="rotate(-40 84.9 217.3)">10<tspan dy="-0.9" font-size="1.9">3</tspan></text>
<text x="118.7" y="249.0" font-size="2.7" text-anchor="middle" fill="#4a4a4a" transform="rotate(-40 118.7 248.2)">10<tspan dy="-0.9" font-size="1.9">3</tspan></text>
<text x="84.9" y="209.8" font-size="2.7" text-anchor="middle" fill="#4a4a4a" transform="rotate(-40 84.9 208.9)">10<tspan dy="-0.9" font-size="1.9">4</tspan></text>
<text x="127.7" y="249.0" font-size="2.7" text-anchor="middle" fill="#4a4a4a" transform="rotate(-40 127.7 248.2)">10<tspan dy="-0.9" font-size="1.9">4</tspan></text>
</g>
<text x="128" y="224.5" font-size="8.1" font-weight="bold" text-anchor="end" fill="#111" stroke="#111" stroke-width="0.25" >4%</text>
<g>
<clipPath id="cp5"><rect x="147.8" y="208.9" width="41.2" height="35.3"/></clipPath>
<g clip-path="url(#cp5)">
<ellipse cx="155" cy="232" rx="6" ry="8" transform="rotate(0 155 232)" fill="url(#hg)" opacity="0.8"/>
<g filter="url(#bf)">
<path d="M150.6,233.2h0.45M155.1,237.2h0.45M153.6,229.4h0.45M157.9,226.3h0.45M152.7,237.0h0.45M156.4,228.6h0.45M155.5,236.7h0.45M157.1,229.1h0.45M156.5,233.8h0.45M155.8,229.2h0.45M153.5,238.6h0.45M155.9,230.3h0.45M155.0,228.8h0.45M153.4,232.3h0.45M154.2,229.9h0.45M159.3,232.9h0.45M160.5,226.5h0.45M157.1,229.9h0.45M159.8,232.6h0.45M154.7,235.8h0.45M156.3,227.2h0.45M156.4,230.5h0.45M154.5,231.4h0.45M151.2,228.2h0.45M153.9,236.0h0.45M153.0,235.0h0.45M157.3,228.2h0.45M151.3,228.7h0.45M157.4,234.1h0.45M151.0,234.7h0.45" stroke="#555" stroke-opacity="0.28" stroke-width="0.45" fill="none"/>
</g>
<ellipse cx="163" cy="224" rx="6" ry="8" transform="rotate(-40 163 224)" fill="url(#hg)" opacity="0.5"/>
<g filter="url(#bf)">
<path d="M161.3,222.8h0.45M162.0,231.3h0.45M163.6,229.5h0.45M165.4,228.3h0.45M161.1,227.1h0.45M161.5,219.3h0.45M165.3,221.8h0.45M163.9,229.6h0.45M161.6,226.0h0.45M160.4,222.2h0.45M161.0,226.6h0.45M160.2,231.4h0.45M164.6,219.2h0.45M163.5,227.5h0.45M155.7,223.4h0.45M166.3,222.9h0.45M165.5,218.7h0.45M166.0,225.6h0.45M165.8,221.2h0.45M158.9,225.5h0.45" stroke="#555" stroke-opacity="0.28" stroke-width="0.45" fill="none"/>
</g>
<path d="M163.7,216.3L170.3,215.9" stroke="#666" stroke-opacity="0.38" stroke-width="2.2" stroke-linecap="round" filter="url(#bf)"/>
<g transform="rotate(-31 155 239.6)" filter="url(#soft)">
<ellipse cx="155" cy="239.6" rx="9.50" ry="4.16" fill="#aaa" fill-opacity=".45"/>
<path d="M146.79,239.6Q155.00,234.14 163.21,239.6Q155.00,245.06 146.79,239.6Z" fill="#8e8e8e" fill-opacity=".85" stroke="#222" stroke-width="0.85" stroke-linejoin="round"/>
<path d="M150.29,239.6Q155.00,237.00 159.71,239.6Q155.00,242.20 150.29,239.6Z" fill="#c4c4c4" fill-opacity=".7" stroke="#2a2a2a" stroke-width="0.65"/>
</g>
</g>
<path d="M161.3,208.6V244.2" stroke="#8c8c8c" stroke-width="0.7" fill="none"/>
<path d="M147.5,233H188.7" stroke="#bdbdbd" stroke-width="0.8" fill="none"/>
<path d="M147.5,208.6H188.7" stroke="#b4b4b4" stroke-width="1.1" fill="none"/>
<path d="M188.7,208.6V244.2" stroke="#ddd" stroke-width="0.5" fill="none"/>
<path d="M147.5,208.1V244.2" stroke="#666" stroke-width="0.9" fill="none"/>
<path d="M147.1,244.2H188.7" stroke="#3a3a3a" stroke-width="1.2" fill="none"/>
<text x="144.1" y="243.9" font-size="2.7" text-anchor="middle" fill="#4a4a4a" transform="rotate(-40 144.1 243.0)">10<tspan dy="-0.9" font-size="1.9">0</tspan></text>
<text x="150.7" y="249.4" font-size="2.7" text-anchor="middle" fill="#4a4a4a" transform="rotate(-40 150.7 248.6)">10<tspan dy="-0.9" font-size="1.9">0</tspan></text>
<text x="144.1" y="235.5" font-size="2.7" text-anchor="middle" fill="#4a4a4a" transform="rotate(-40 144.1 234.6)">10<tspan dy="-0.9" font-size="1.9">1</tspan></text>
<text x="159.9" y="249.4" font-size="2.7" text-anchor="middle" fill="#4a4a4a" transform="rotate(-40 159.9 248.6)">10<tspan dy="-0.9" font-size="1.9">1</tspan></text>
<text x="144.1" y="227.1" font-size="2.7" text-anchor="middle" fill="#4a4a4a" transform="rotate(-40 144.1 226.2)">10<tspan dy="-0.9" font-size="1.9">2</tspan></text>
<text x="169.0" y="249.4" font-size="2.7" text-anchor="middle" fill="#4a4a4a" transform="rotate(-40 169.0 248.6)">10<tspan dy="-0.9" font-size="1.9">2</tspan></text>
<text x="144.1" y="218.7" font-size="2.7" text-anchor="middle" fill="#4a4a4a" transform="rotate(-40 144.1 217.8)">10<tspan dy="-0.9" font-size="1.9">3</tspan></text>
<text x="178.2" y="249.4" font-size="2.7" text-anchor="middle" fill="#4a4a4a" transform="rotate(-40 178.2 248.6)">10<tspan dy="-0.9" font-size="1.9">3</tspan></text>
<text x="144.1" y="210.3" font-size="2.7" text-anchor="middle" fill="#4a4a4a" transform="rotate(-40 144.1 209.4)">10<tspan dy="-0.9" font-size="1.9">4</tspan></text>
<text x="187.4" y="249.4" font-size="2.7" text-anchor="middle" fill="#4a4a4a" transform="rotate(-40 187.4 248.6)">10<tspan dy="-0.9" font-size="1.9">4</tspan></text>
</g>
<text x="187" y="225.3" font-size="8.1" font-weight="bold" text-anchor="end" fill="#111" stroke="#111" stroke-width="0.25" >4%</text>
<g>
<clipPath id="cp6"><rect x="204.5" y="209.0" width="40.4" height="35.8"/></clipPath>
<g clip-path="url(#cp6)">
<ellipse cx="216" cy="226" rx="11" ry="11" transform="rotate(0 216 226)" fill="url(#hg)" opacity="1"/>
<g filter="url(#bf)">
<path d="M209.0,226.5h0.45M218.9,231.3h0.45M205.8,219.6h0.45M217.9,218.7h0.45M209.4,220.8h0.45M226.3,216.1h0.45M215.0,224.7h0.45M215.2,221.1h0.45M221.1,225.6h0.45M209.3,222.3h0.45M213.7,222.9h0.45M217.3,218.0h0.45M221.6,228.2h0.45M217.7,217.3h0.45M213.3,223.9h0.45M221.9,219.8h0.45M218.6,232.5h0.45M209.8,224.8h0.45M217.9,213.4h0.45M211.7,220.4h0.45M219.8,234.3h0.45M211.9,225.2h0.45M213.6,226.8h0.45M218.3,230.0h0.45M218.3,229.1h0.45M213.3,223.3h0.45M213.2,224.6h0.45M223.9,225.9h0.45M215.3,222.4h0.45M214.2,220.6h0.45M209.6,222.9h0.45M213.5,230.0h0.45M224.8,230.2h0.45M224.7,222.7h0.45M223.2,230.8h0.45M221.9,218.8h0.45M215.4,226.6h0.45M228.2,225.1h0.45M213.9,229.1h0.45M218.2,224.4h0.45M216.9,217.5h0.45M214.4,223.7h0.45M223.2,231.0h0.45M221.1,216.9h0.45M209.3,231.4h0.45M210.9,235.1h0.45M218.2,235.2h0.45M218.5,218.8h0.45M208.0,227.6h0.45M206.5,222.1h0.45M212.3,227.3h0.45M216.3,223.3h0.45M214.3,225.9h0.45M213.3,225.4h0.45M210.2,225.7h0.45M206.4,228.4h0.45M225.5,225.6h0.45M209.8,224.7h0.45M211.2,234.2h0.45M212.4,222.4h0.45M217.9,226.5h0.45M211.4,231.3h0.45M222.7,224.8h0.45M211.3,236.4h0.45M209.2,213.7h0.45M210.3,226.4h0.45M217.0,226.8h0.45M214.6,232.8h0.45M210.8,217.6h0.45M212.3,221.8h0.45M207.6,227.4h0.45M217.3,220.9h0.45M210.4,223.1h0.45M217.9,229.7h0.45M218.4,230.4h0.45M212.1,226.1h0.45M202.6,226.5h0.45M211.0,233.2h0.45M213.9,222.2h0.45M214.0,219.7h0.45" stroke="#555" stroke-opacity="0.28" stroke-width="0.45" fill="none"/>
</g>
<ellipse cx="224" cy="224" rx="9" ry="8" transform="rotate(0 224 224)" fill="url(#hg)" opacity="0.8"/>
<g filter="url(#bf)">
<path d="M219.3,228.7h0.45M230.3,222.6h0.45M227.8,227.0h0.45M227.3,223.1h0.45M226.6,223.9h0.45M228.9,226.3h0.45M220.1,229.3h0.45M228.7,226.7h0.45M219.8,227.4h0.45M222.2,228.6h0.45M222.8,226.3h0.45M221.8,227.5h0.45M224.1,225.7h0.45M224.5,223.1h0.45M225.4,231.9h0.45M221.8,226.9h0.45M227.1,229.7h0.45M221.1,225.1h0.45M222.6,220.4h0.45M222.2,220.5h0.45M218.1,230.5h0.45M228.9,222.4h0.45M226.0,223.6h0.45M226.0,228.4h0.45M227.8,225.9h0.45M228.0,223.7h0.45M216.0,228.6h0.45M228.6,224.5h0.45M222.4,223.1h0.45M222.3,226.0h0.45M224.4,223.5h0.45M230.1,223.8h0.45M231.6,217.5h0.45M231.0,220.2h0.45M224.5,223.5h0.45M223.4,226.6h0.45M223.7,226.3h0.45M230.6,222.1h0.45M222.2,230.9h0.45M223.8,225.5h0.45" stroke="#555" stroke-opacity="0.28" stroke-width="0.45" fill="none"/>
</g>
<ellipse cx="222.6" cy="219" rx="9" ry="6" transform="rotate(0 222.6 219)" fill="url(#cg)" opacity="0.95"/>
<g filter="url(#bf)">
<path d="M218.5,221.9h0.5M214.1,217.6h0.5M222.4,212.5h0.5M222.5,219.4h0.5M228.1,218.7h0.5M223.2,219.9h0.5M220.3,215.2h0.5M226.4,214.7h0.5M221.3,218.9h0.5M219.3,216.6h0.5M217.3,217.6h0.5M226.7,215.4h0.5M219.0,216.3h0.5M219.9,220.9h0.5M217.6,216.1h0.5M228.8,220.5h0.5M219.7,219.9h0.5M232.1,216.5h0.5M220.5,223.5h0.5M220.1,216.0h0.5M229.7,219.7h0.5M220.0,220.3h0.5M215.5,216.7h0.5M218.5,216.3h0.5M216.1,222.2h0.5M223.7,220.9h0.5M225.6,219.0h0.5M218.2,217.4h0.5M225.8,223.8h0.5M229.5,217.7h0.5M225.5,223.7h0.5M219.9,219.9h0.5M226.7,222.7h0.5M219.3,224.1h0.5M221.7,218.1h0.5M216.2,220.5h0.5M224.5,215.0h0.5M225.1,219.8h0.5M218.1,221.4h0.5M220.1,218.6h0.5M222.4,214.8h0.5M223.7,221.7h0.5M228.4,216.6h0.5M223.0,220.8h0.5M215.5,221.6h0.5M226.0,221.0h0.5M217.6,218.5h0.5M223.5,217.5h0.5M225.1,215.4h0.5M219.4,216.5h0.5M218.9,217.3h0.5M223.3,218.4h0.5M226.3,219.0h0.5M226.8,216.8h0.5M223.1,220.4h0.5M219.8,220.3h0.5M221.8,219.1h0.5M233.9,217.4h0.5M225.5,221.2h0.5M219.9,219.8h0.5M223.3,221.6h0.5M228.7,220.4h0.5M226.7,224.9h0.5M222.6,218.3h0.5M223.3,217.5h0.5M223.7,218.6h0.5M215.4,220.8h0.5M213.7,217.4h0.5M223.8,219.5h0.5M219.5,220.5h0.5M229.6,214.6h0.5M222.4,215.8h0.5M216.6,223.9h0.5M220.8,221.2h0.5M220.5,218.5h0.5M234.0,220.7h0.5M222.8,218.3h0.5M222.5,216.7h0.5M229.3,222.1h0.5M223.2,219.7h0.5M223.9,222.9h0.5M216.0,224.8h0.5M224.6,218.5h0.5M222.9,225.0h0.5M221.2,220.9h0.5M217.3,221.3h0.5M225.2,217.6h0.5M222.5,217.7h0.5M220.3,218.8h0.5M222.8,217.6h0.5M222.3,219.4h0.5M222.1,220.6h0.5M231.0,217.7h0.5M224.2,213.2h0.5M227.9,222.9h0.5M225.2,216.9h0.5M229.7,215.7h0.5M225.5,222.0h0.5M219.3,218.3h0.5M224.5,221.6h0.5M221.1,220.0h0.5M222.8,218.2h0.5M221.5,222.1h0.5M227.3,215.0h0.5M222.2,216.4h0.5M224.3,217.3h0.5M224.4,220.9h0.5M224.8,216.5h0.5M219.2,214.0h0.5M230.5,214.4h0.5M230.1,217.1h0.5M221.3,220.5h0.5M219.5,218.7h0.5M222.5,217.3h0.5M215.0,213.2h0.5M231.2,219.1h0.5M225.2,217.8h0.5M223.6,219.5h0.5M222.1,221.1h0.5M223.3,219.1h0.5M223.8,221.2h0.5M222.7,218.9h0.5M224.9,221.7h0.5M224.2,216.5h0.5M224.9,219.9h0.5M220.7,219.6h0.5M225.4,215.1h0.5M222.0,220.6h0.5M224.0,218.5h0.5M219.2,220.9h0.5M222.2,217.3h0.5M218.1,221.6h0.5M224.5,222.1h0.5M223.0,218.1h0.5M222.2,221.6h0.5M222.4,219.8h0.5M223.9,221.1h0.5M226.7,223.2h0.5M221.9,219.0h0.5M226.2,220.5h0.5M224.7,220.4h0.5M225.4,214.6h0.5M221.1,217.9h0.5M219.1,216.5h0.5M227.2,218.9h0.5M218.3,218.0h0.5M226.9,216.3h0.5M225.7,223.6h0.5M220.0,215.4h0.5M218.0,216.1h0.5" stroke="#333" stroke-opacity="0.45" stroke-width="0.5" fill="none"/>
</g>
<ellipse cx="211.5" cy="238.7" rx="11.5" ry="6" transform="rotate(-42 211.5 238.7)" fill="url(#cg)" opacity="0.9"/>
<g filter="url(#bf)">
<path d="M220.6,234.7h0.5M216.9,238.0h0.5M205.6,240.5h0.5M210.5,239.1h0.5M214.9,238.1h0.5M212.4,237.5h0.5M211.5,234.7h0.5M213.6,238.0h0.5M210.5,240.3h0.5M218.0,236.7h0.5M206.3,241.3h0.5M210.8,239.8h0.5M216.7,239.9h0.5M213.9,237.8h0.5M205.8,240.1h0.5M211.0,237.7h0.5M209.3,238.6h0.5M203.5,243.2h0.5M215.3,235.4h0.5M211.4,240.0h0.5M216.7,241.9h0.5M207.6,238.2h0.5M214.7,240.1h0.5M202.4,237.9h0.5M212.2,240.5h0.5M211.8,236.7h0.5M199.0,239.5h0.5M215.1,242.3h0.5M215.2,241.6h0.5M217.0,236.4h0.5M222.4,237.2h0.5M211.5,236.4h0.5M208.4,241.0h0.5M209.7,239.3h0.5M206.3,239.0h0.5M214.1,237.9h0.5M219.7,237.3h0.5M217.8,238.2h0.5M215.2,242.0h0.5M212.5,238.8h0.5M209.1,240.7h0.5M209.8,240.7h0.5M200.9,242.8h0.5M208.8,240.5h0.5M206.4,240.3h0.5M215.3,238.3h0.5M209.1,236.4h0.5M216.2,235.5h0.5M217.1,238.0h0.5M210.9,236.4h0.5M208.8,239.7h0.5M213.3,237.4h0.5M210.2,236.9h0.5M210.6,237.3h0.5M216.7,235.9h0.5M215.0,240.3h0.5M205.2,241.7h0.5M213.8,234.8h0.5M205.6,239.6h0.5M207.4,241.4h0.5M210.2,237.5h0.5M212.5,235.9h0.5M206.7,238.0h0.5M216.0,237.4h0.5M213.8,239.3h0.5M206.2,241.0h0.5M208.4,233.2h0.5M209.2,235.7h0.5M212.5,237.8h0.5M215.1,239.5h0.5M215.9,236.7h0.5M204.2,239.3h0.5M214.2,237.0h0.5M219.2,237.6h0.5M214.0,236.4h0.5M207.2,237.2h0.5M204.5,243.4h0.5M214.0,240.4h0.5M210.9,242.4h0.5M211.8,241.1h0.5M213.2,241.6h0.5M213.7,238.7h0.5M211.8,238.8h0.5M212.1,241.4h0.5M199.1,241.9h0.5M207.0,240.9h0.5M213.6,242.5h0.5M207.8,241.0h0.5M206.4,239.3h0.5M210.8,240.7h0.5M206.7,238.2h0.5M208.3,238.3h0.5M213.7,242.3h0.5M206.3,240.1h0.5M213.2,236.6h0.5M215.4,235.4h0.5M209.7,239.6h0.5M215.2,238.7h0.5M216.6,240.8h0.5M214.7,238.3h0.5M202.0,239.0h0.5M213.0,238.3h0.5M206.3,241.1h0.5M218.8,238.6h0.5M194.7,244.9h0.5M205.7,240.5h0.5M209.6,241.2h0.5M207.4,237.5h0.5M204.5,236.2h0.5M208.9,241.8h0.5M215.3,236.5h0.5M206.5,238.4h0.5M202.6,243.0h0.5M216.9,237.8h0.5M205.2,239.2h0.5M215.9,237.6h0.5M202.8,241.7h0.5M213.5,236.5h0.5M220.5,236.9h0.5M209.2,239.4h0.5M217.3,239.2h0.5M217.8,243.1h0.5M215.4,239.2h0.5M213.7,236.6h0.5M205.8,240.4h0.5M212.7,237.1h0.5M207.0,242.0h0.5M202.2,235.6h0.5M210.6,239.4h0.5M204.3,238.6h0.5M208.9,236.2h0.5M215.6,237.6h0.5M215.0,240.2h0.5M209.9,240.4h0.5M205.4,240.3h0.5M210.8,235.7h0.5M195.3,244.4h0.5M207.1,240.9h0.5M213.5,237.3h0.5M211.6,239.7h0.5M213.9,237.3h0.5M202.6,241.6h0.5M204.9,243.0h0.5M212.2,238.4h0.5M212.0,240.5h0.5M210.5,240.9h0.5M213.3,236.7h0.5M220.0,233.7h0.5M207.6,240.7h0.5M207.0,239.2h0.5M221.1,234.7h0.5M200.9,244.2h0.5M205.3,239.2h0.5M211.5,238.0h0.5M220.1,238.3h0.5M207.4,235.5h0.5M213.2,240.0h0.5M201.7,244.6h0.5M199.7,241.6h0.5M211.7,236.5h0.5M210.8,240.4h0.5M207.9,235.5h0.5M203.0,240.5h0.5M211.6,237.3h0.5M209.5,238.1h0.5M215.4,238.0h0.5M209.3,239.7h0.5M206.8,240.4h0.5M210.0,238.6h0.5M218.0,234.2h0.5M209.3,237.9h0.5M212.9,236.7h0.5M211.6,238.1h0.5M209.2,241.0h0.5M215.7,234.8h0.5M214.7,236.9h0.5M212.8,239.3h0.5M202.9,239.5h0.5M212.5,239.7h0.5M206.8,237.1h0.5" stroke="#333" stroke-opacity="0.45" stroke-width="0.5" fill="none"/>
</g>
<ellipse cx="217" cy="229" rx="6" ry="6.5" transform="rotate(0 217 229)" fill="url(#cg)" opacity="0.45"/>
<g filter="url(#bf)">
<path d="M212.5,224.2h0.5M218.6,222.5h0.5M215.2,229.1h0.5M215.7,228.6h0.5M216.5,231.0h0.5M219.7,231.1h0.5M215.7,227.5h0.5M215.6,230.2h0.5M217.9,230.0h0.5M213.9,229.3h0.5M216.4,224.3h0.5M214.2,226.4h0.5M215.0,230.0h0.5M216.2,228.3h0.5M219.2,224.2h0.5M215.4,225.4h0.5M219.5,226.8h0.5M215.1,226.5h0.5M216.7,228.0h0.5M216.3,227.2h0.5M219.8,225.9h0.5M216.5,226.3h0.5M220.7,231.6h0.5M220.7,232.6h0.5M218.4,227.4h0.5M220.7,228.2h0.5M215.8,231.2h0.5M213.8,226.9h0.5M216.4,231.0h0.5M218.3,231.1h0.5M215.9,230.3h0.5M221.2,225.0h0.5M216.6,233.3h0.5M217.7,228.8h0.5M217.9,227.5h0.5M216.2,226.5h0.5M219.1,228.4h0.5M216.0,230.3h0.5M218.7,232.0h0.5M216.6,231.0h0.5" stroke="#333" stroke-opacity="0.45" stroke-width="0.5" fill="none"/>
</g>
</g>
<path d="M217.5,208.7V244.8" stroke="#8c8c8c" stroke-width="0.7" fill="none"/>
<path d="M204.2,233.4H244.6" stroke="#bdbdbd" stroke-width="0.8" fill="none"/>
<path d="M204.2,208.7H244.6" stroke="#b4b4b4" stroke-width="1.1" fill="none"/>
<path d="M244.6,208.7V244.8" stroke="#ddd" stroke-width="0.5" fill="none"/>
<path d="M204.2,208.2V244.8" stroke="#666" stroke-width="0.9" fill="none"/>
<path d="M203.79999999999998,244.8H244.6" stroke="#3a3a3a" stroke-width="1.2" fill="none"/>
<text x="200.8" y="244.5" font-size="2.7" text-anchor="middle" fill="#4a4a4a" transform="rotate(-40 200.8 243.6)">10<tspan dy="-0.9" font-size="1.9">0</tspan></text>
<text x="207.4" y="250.0" font-size="2.7" text-anchor="middle" fill="#4a4a4a" transform="rotate(-40 207.4 249.2)">10<tspan dy="-0.9" font-size="1.9">0</tspan></text>
<text x="200.8" y="236.0" font-size="2.7" text-anchor="middle" fill="#4a4a4a" transform="rotate(-40 200.8 235.1)">10<tspan dy="-0.9" font-size="1.9">1</tspan></text>
<text x="216.4" y="250.0" font-size="2.7" text-anchor="middle" fill="#4a4a4a" transform="rotate(-40 216.4 249.2)">10<tspan dy="-0.9" font-size="1.9">1</tspan></text>
<text x="200.8" y="227.5" font-size="2.7" text-anchor="middle" fill="#4a4a4a" transform="rotate(-40 200.8 226.6)">10<tspan dy="-0.9" font-size="1.9">2</tspan></text>
<text x="225.3" y="250.0" font-size="2.7" text-anchor="middle" fill="#4a4a4a" transform="rotate(-40 225.3 249.2)">10<tspan dy="-0.9" font-size="1.9">2</tspan></text>
<text x="200.8" y="218.9" font-size="2.7" text-anchor="middle" fill="#4a4a4a" transform="rotate(-40 200.8 218.0)">10<tspan dy="-0.9" font-size="1.9">3</tspan></text>
<text x="234.3" y="250.0" font-size="2.7" text-anchor="middle" fill="#4a4a4a" transform="rotate(-40 234.3 249.2)">10<tspan dy="-0.9" font-size="1.9">3</tspan></text>
<text x="200.8" y="210.4" font-size="2.7" text-anchor="middle" fill="#4a4a4a" transform="rotate(-40 200.8 209.5)">10<tspan dy="-0.9" font-size="1.9">4</tspan></text>
<text x="243.3" y="250.0" font-size="2.7" text-anchor="middle" fill="#4a4a4a" transform="rotate(-40 243.3 249.2)">10<tspan dy="-0.9" font-size="1.9">4</tspan></text>
</g>
<text x="245.3" y="226.8" font-size="8.1" font-weight="bold" text-anchor="end" fill="#111" stroke="#111" stroke-width="0.25" >30%</text>
<g>
<clipPath id="cp7"><rect x="87.8" y="260.1" width="40.4" height="35.5"/></clipPath>
<g clip-path="url(#cp7)">
<ellipse cx="94" cy="288" rx="6" ry="6" transform="rotate(0 94 288)" fill="url(#hg)" opacity="0.8"/>
<g filter="url(#bf)">
<path d="M90.2,286.4h0.45M93.9,287.9h0.45M96.4,292.0h0.45M93.8,287.2h0.45M96.2,290.9h0.45M95.9,287.4h0.45M97.7,284.9h0.45M95.5,282.2h0.45M94.0,289.1h0.45M93.1,290.5h0.45M93.9,293.1h0.45M93.8,286.9h0.45M96.7,288.9h0.45M97.7,289.8h0.45M93.6,293.1h0.45M91.9,290.1h0.45M97.9,286.6h0.45M91.1,286.6h0.45M95.3,288.6h0.45M94.1,288.8h0.45M92.6,292.7h0.45M93.8,284.6h0.45M97.8,288.7h0.45M92.0,288.6h0.45M96.4,287.1h0.45" stroke="#555" stroke-opacity="0.28" stroke-width="0.45" fill="none"/>
</g>
<path d="M103,286L107.8,271" stroke="#666" stroke-opacity="0.1" stroke-width="2.6" stroke-linecap="round" filter="url(#bf)"/>
<ellipse cx="107.5" cy="271" rx="3" ry="3.5" transform="rotate(0 107.5 271)" fill="url(#hg)" opacity="0.8"/>
<g filter="url(#bf)">
<path d="M106.7,270.4h0.45M107.2,270.2h0.45M107.0,273.3h0.45M107.6,269.8h0.45M106.0,271.2h0.45M108.7,271.6h0.45M106.6,267.9h0.45M108.6,269.4h0.45M106.3,268.5h0.45M105.3,271.8h0.45M108.5,269.0h0.45M106.3,272.0h0.45" stroke="#555" stroke-opacity="0.28" stroke-width="0.45" fill="none"/>
</g>
<g transform="rotate(-28 94 292.3)" filter="url(#soft)">
<ellipse cx="94" cy="292.3" rx="7.75" ry="3.20" fill="#aaa" fill-opacity=".45"/>
<path d="M87.30,292.3Q94.00,288.10 100.70,292.3Q94.00,296.50 87.30,292.3Z" fill="#8e8e8e" fill-opacity=".85" stroke="#222" stroke-width="0.85" stroke-linejoin="round"/>
<path d="M90.16,292.3Q94.00,290.30 97.84,292.3Q94.00,294.30 90.16,292.3Z" fill="#c4c4c4" fill-opacity=".7" stroke="#2a2a2a" stroke-width="0.65"/>
</g>
</g>
<path d="M100.5,259.8V295.6" stroke="#8c8c8c" stroke-width="0.7" fill="none"/>
<path d="M87.5,286.7H127.9" stroke="#bdbdbd" stroke-width="0.8" fill="none"/>
<path d="M87.5,259.8H127.9" stroke="#b4b4b4" stroke-width="1.1" fill="none"/>
<path d="M127.9,259.8V295.6" stroke="#ddd" stroke-width="0.5" fill="none"/>
<path d="M87.5,259.3V295.6" stroke="#666" stroke-width="0.9" fill="none"/>
<path d="M87.1,295.6H127.9" stroke="#3a3a3a" stroke-width="1.2" fill="none"/>
<text x="84.1" y="295.3" font-size="2.7" text-anchor="middle" fill="#4a4a4a" transform="rotate(-40 84.1 294.4)">10<tspan dy="-0.9" font-size="1.9">0</tspan></text>
<text x="90.7" y="300.8" font-size="2.7" text-anchor="middle" fill="#4a4a4a" transform="rotate(-40 90.7 300.0)">10<tspan dy="-0.9" font-size="1.9">0</tspan></text>
<text x="84.1" y="286.9" font-size="2.7" text-anchor="middle" fill="#4a4a4a" transform="rotate(-40 84.1 286.0)">10<tspan dy="-0.9" font-size="1.9">1</tspan></text>
<text x="99.7" y="300.8" font-size="2.7" text-anchor="middle" fill="#4a4a4a" transform="rotate(-40 99.7 300.0)">10<tspan dy="-0.9" font-size="1.9">1</tspan></text>
<text x="84.1" y="278.4" font-size="2.7" text-anchor="middle" fill="#4a4a4a" transform="rotate(-40 84.1 277.5)">10<tspan dy="-0.9" font-size="1.9">2</tspan></text>
<text x="108.7" y="300.8" font-size="2.7" text-anchor="middle" fill="#4a4a4a" transform="rotate(-40 108.7 300.0)">10<tspan dy="-0.9" font-size="1.9">2</tspan></text>
<text x="84.1" y="269.9" font-size="2.7" text-anchor="middle" fill="#4a4a4a" transform="rotate(-40 84.1 269.1)">10<tspan dy="-0.9" font-size="1.9">3</tspan></text>
<text x="117.6" y="300.8" font-size="2.7" text-anchor="middle" fill="#4a4a4a" transform="rotate(-40 117.6 300.0)">10<tspan dy="-0.9" font-size="1.9">3</tspan></text>
<text x="84.1" y="261.5" font-size="2.7" text-anchor="middle" fill="#4a4a4a" transform="rotate(-40 84.1 260.6)">10<tspan dy="-0.9" font-size="1.9">4</tspan></text>
<text x="126.6" y="300.8" font-size="2.7" text-anchor="middle" fill="#4a4a4a" transform="rotate(-40 126.6 300.0)">10<tspan dy="-0.9" font-size="1.9">4</tspan></text>
</g>
<text x="128.2" y="278" font-size="8.1" font-weight="bold" text-anchor="end" fill="#111" stroke="#111" stroke-width="0.25" >4%</text>
<g>
<clipPath id="cp8"><rect x="147.3" y="260.5" width="41.0" height="35.5"/></clipPath>
<g clip-path="url(#cp8)">
<ellipse cx="153" cy="288" rx="6" ry="6" transform="rotate(0 153 288)" fill="url(#hg)" opacity="0.8"/>
<g filter="url(#bf)">
<path d="M153.5,293.1h0.45M154.7,286.5h0.45M151.8,286.6h0.45M155.0,287.2h0.45M154.4,284.0h0.45M151.7,287.6h0.45M151.6,285.3h0.45M151.9,286.8h0.45M153.4,287.8h0.45M157.5,288.2h0.45M156.7,285.8h0.45M156.5,288.4h0.45M155.4,286.0h0.45M151.4,287.3h0.45M152.7,288.1h0.45M156.4,289.9h0.45M148.6,292.5h0.45M151.8,289.7h0.45M153.0,286.5h0.45M157.6,287.2h0.45M154.2,289.9h0.45M154.5,284.5h0.45M156.5,293.1h0.45M155.3,283.9h0.45M155.2,291.9h0.45" stroke="#555" stroke-opacity="0.28" stroke-width="0.45" fill="none"/>
</g>
<path d="M162,286L166.8,271.6" stroke="#666" stroke-opacity="0.1" stroke-width="2.6" stroke-linecap="round" filter="url(#bf)"/>
<ellipse cx="166.5" cy="271.5" rx="3" ry="3.5" transform="rotate(0 166.5 271.5)" fill="url(#hg)" opacity="0.8"/>
<g filter="url(#bf)">
<path d="M166.1,270.6h0.45M167.0,272.7h0.45M165.3,270.0h0.45M164.8,269.3h0.45M166.5,271.0h0.45M164.8,272.4h0.45M167.4,273.7h0.45M169.2,273.6h0.45M164.9,271.4h0.45M167.1,270.4h0.45M166.0,271.8h0.45M166.2,272.4h0.45" stroke="#555" stroke-opacity="0.28" stroke-width="0.45" fill="none"/>
</g>
<g transform="rotate(-28 153.4 292.7)" filter="url(#soft)">
<ellipse cx="153.4" cy="292.7" rx="7.75" ry="3.20" fill="#aaa" fill-opacity=".45"/>
<path d="M146.70,292.7Q153.40,288.50 160.10,292.7Q153.40,296.90 146.70,292.7Z" fill="#8e8e8e" fill-opacity=".85" stroke="#222" stroke-width="0.85" stroke-linejoin="round"/>
<path d="M149.56,292.7Q153.40,290.70 157.24,292.7Q153.40,294.70 149.56,292.7Z" fill="#c4c4c4" fill-opacity=".7" stroke="#2a2a2a" stroke-width="0.65"/>
</g>
</g>
<path d="M159.5,260.2V296" stroke="#8c8c8c" stroke-width="0.7" fill="none"/>
<path d="M147.0,287.2H188" stroke="#bdbdbd" stroke-width="0.8" fill="none"/>
<path d="M147.0,260.2H188" stroke="#b4b4b4" stroke-width="1.1" fill="none"/>
<path d="M188,260.2V296" stroke="#ddd" stroke-width="0.5" fill="none"/>
<path d="M147.0,259.7V296" stroke="#666" stroke-width="0.9" fill="none"/>
<path d="M146.6,296H188" stroke="#3a3a3a" stroke-width="1.2" fill="none"/>
<text x="143.6" y="295.7" font-size="2.7" text-anchor="middle" fill="#4a4a4a" transform="rotate(-40 143.6 294.8)">10<tspan dy="-0.9" font-size="1.9">0</tspan></text>
<text x="150.2" y="301.2" font-size="2.7" text-anchor="middle" fill="#4a4a4a" transform="rotate(-40 150.2 300.4)">10<tspan dy="-0.9" font-size="1.9">0</tspan></text>
<text x="143.6" y="287.2" font-size="2.7" text-anchor="middle" fill="#4a4a4a" transform="rotate(-40 143.6 286.4)">10<tspan dy="-0.9" font-size="1.9">1</tspan></text>
<text x="159.3" y="301.2" font-size="2.7" text-anchor="middle" fill="#4a4a4a" transform="rotate(-40 159.3 300.4)">10<tspan dy="-0.9" font-size="1.9">1</tspan></text>
<text x="143.6" y="278.8" font-size="2.7" text-anchor="middle" fill="#4a4a4a" transform="rotate(-40 143.6 277.9)">10<tspan dy="-0.9" font-size="1.9">2</tspan></text>
<text x="168.4" y="301.2" font-size="2.7" text-anchor="middle" fill="#4a4a4a" transform="rotate(-40 168.4 300.4)">10<tspan dy="-0.9" font-size="1.9">2</tspan></text>
<text x="143.6" y="270.3" font-size="2.7" text-anchor="middle" fill="#4a4a4a" transform="rotate(-40 143.6 269.4)">10<tspan dy="-0.9" font-size="1.9">3</tspan></text>
<text x="177.6" y="301.2" font-size="2.7" text-anchor="middle" fill="#4a4a4a" transform="rotate(-40 177.6 300.4)">10<tspan dy="-0.9" font-size="1.9">3</tspan></text>
<text x="143.6" y="261.9" font-size="2.7" text-anchor="middle" fill="#4a4a4a" transform="rotate(-40 143.6 261.0)">10<tspan dy="-0.9" font-size="1.9">4</tspan></text>
<text x="186.7" y="301.2" font-size="2.7" text-anchor="middle" fill="#4a4a4a" transform="rotate(-40 186.7 300.4)">10<tspan dy="-0.9" font-size="1.9">4</tspan></text>
</g>
<text x="187" y="278.6" font-size="8.1" font-weight="bold" text-anchor="end" fill="#111" stroke="#111" stroke-width="0.25" >4%</text>
<g>
<clipPath id="cp9"><rect x="203.4" y="261.6" width="40.9" height="35.4"/></clipPath>
<g clip-path="url(#cp9)">
<ellipse cx="216" cy="282" rx="13" ry="12" transform="rotate(0 216 282)" fill="url(#hg)" opacity="1"/>
<g filter="url(#bf)">
<path d="M201.5,277.0h0.45M217.4,281.2h0.45M212.5,280.7h0.45M215.9,282.4h0.45M222.2,290.9h0.45M217.4,287.5h0.45M214.2,274.2h0.45M209.9,282.5h0.45M212.7,277.1h0.45M210.5,290.7h0.45M218.9,283.8h0.45M214.2,276.4h0.45M211.0,283.9h0.45M216.8,279.9h0.45M213.1,276.6h0.45M228.6,284.1h0.45M226.5,292.9h0.45M223.9,283.8h0.45M216.8,283.8h0.45M212.4,288.6h0.45M213.8,275.3h0.45M222.4,283.8h0.45M213.0,285.6h0.45M209.3,272.6h0.45M219.7,281.4h0.45M213.2,287.3h0.45M223.4,278.0h0.45M210.6,276.9h0.45M209.8,278.7h0.45M210.6,284.1h0.45M218.8,279.8h0.45M221.7,286.3h0.45M224.9,275.0h0.45M215.9,279.6h0.45M211.6,282.8h0.45M208.6,281.5h0.45M217.1,275.0h0.45M221.3,277.8h0.45M214.0,283.2h0.45M214.1,280.8h0.45M205.2,278.0h0.45M207.2,284.7h0.45M216.1,284.7h0.45M225.3,282.5h0.45M224.8,275.9h0.45M213.2,279.9h0.45M223.3,283.7h0.45M216.5,284.9h0.45M216.3,283.8h0.45M216.5,276.8h0.45M223.8,281.3h0.45M217.1,277.6h0.45M214.4,287.5h0.45M222.2,286.8h0.45M221.2,287.0h0.45M226.3,287.4h0.45M220.8,274.2h0.45M210.6,274.3h0.45M211.4,291.1h0.45M220.1,278.4h0.45M214.9,295.1h0.45M215.7,283.6h0.45M213.9,283.5h0.45M205.9,284.9h0.45M226.1,274.0h0.45M214.0,285.7h0.45M218.2,276.5h0.45M220.1,288.1h0.45M216.9,281.3h0.45M224.1,275.8h0.45M218.9,275.7h0.45M213.8,274.0h0.45M213.6,279.9h0.45M221.2,286.7h0.45M212.1,291.1h0.45M216.9,282.3h0.45M214.2,279.4h0.45M204.1,282.1h0.45M216.5,283.4h0.45M220.5,272.9h0.45M213.5,286.9h0.45M212.6,281.5h0.45M219.3,286.5h0.45M221.6,287.3h0.45M220.6,279.8h0.45M218.6,270.8h0.45M214.5,282.9h0.45M218.7,277.5h0.45M208.5,280.6h0.45M211.8,278.7h0.45M223.7,281.7h0.45M215.4,281.0h0.45M199.4,278.0h0.45M219.2,281.1h0.45M213.8,285.8h0.45M215.0,275.7h0.45M215.4,275.0h0.45M201.6,284.4h0.45M217.5,282.1h0.45M206.7,285.4h0.45M223.0,288.7h0.45M210.4,287.7h0.45M212.9,278.7h0.45M219.3,292.5h0.45M224.2,285.1h0.45M212.7,273.4h0.45M215.5,288.4h0.45M212.4,285.8h0.45M210.3,283.7h0.45M220.9,280.2h0.45" stroke="#555" stroke-opacity="0.28" stroke-width="0.45" fill="none"/>
</g>
<ellipse cx="211" cy="275" rx="7" ry="5.5" transform="rotate(-20 211 275)" fill="url(#cg)" opacity="0.7"/>
<g filter="url(#bf)">
<path d="M207.1,271.2h0.5M208.2,275.9h0.5M211.1,273.5h0.5M210.1,274.5h0.5M216.9,272.5h0.5M207.9,275.6h0.5M208.7,276.6h0.5M211.5,274.1h0.5M210.2,273.7h0.5M210.5,277.7h0.5M213.5,274.7h0.5M214.4,274.9h0.5M212.6,273.8h0.5M203.4,280.9h0.5M207.8,273.5h0.5M205.7,275.3h0.5M214.1,272.8h0.5M212.9,275.2h0.5M211.0,274.6h0.5M212.2,273.2h0.5M210.4,276.6h0.5M209.4,274.8h0.5M206.3,279.2h0.5M209.8,276.5h0.5M210.2,280.4h0.5M210.0,275.9h0.5M213.2,277.9h0.5M210.1,274.4h0.5M212.4,272.2h0.5M214.0,275.8h0.5M212.8,274.9h0.5M208.7,272.9h0.5M209.2,277.3h0.5M209.8,277.1h0.5M213.8,273.2h0.5M215.0,272.7h0.5M209.3,273.7h0.5M209.1,276.6h0.5M210.5,275.1h0.5M214.4,274.8h0.5M212.0,274.7h0.5M207.4,278.5h0.5M210.4,274.5h0.5M211.9,273.7h0.5M211.1,275.8h0.5M212.2,276.5h0.5M207.2,277.1h0.5M207.0,277.6h0.5M208.9,276.9h0.5M210.9,276.6h0.5M209.8,278.8h0.5M211.4,276.5h0.5M212.1,280.0h0.5M208.7,275.4h0.5M204.1,278.4h0.5M211.3,274.7h0.5M206.8,276.2h0.5M211.4,276.7h0.5M213.1,274.3h0.5M211.1,275.8h0.5M212.6,274.2h0.5M214.2,272.9h0.5M209.2,276.1h0.5M213.6,274.7h0.5M212.1,273.6h0.5M210.5,279.7h0.5M211.4,274.4h0.5M211.4,276.3h0.5M214.4,273.9h0.5M209.2,277.1h0.5M212.0,276.7h0.5M208.2,272.2h0.5M214.7,271.5h0.5M214.9,272.3h0.5M206.2,274.6h0.5M214.5,272.7h0.5M205.4,274.8h0.5M214.9,274.4h0.5M211.4,273.4h0.5M210.8,273.0h0.5" stroke="#333" stroke-opacity="0.45" stroke-width="0.5" fill="none"/>
</g>
<ellipse cx="223" cy="275" rx="8" ry="6" transform="rotate(-10 223 275)" fill="url(#cg)" opacity="0.75"/>
<g filter="url(#bf)">
<path d="M223.3,273.4h0.5M223.3,278.0h0.5M219.8,269.5h0.5M223.9,271.9h0.5M226.7,270.0h0.5M224.8,275.6h0.5M223.1,279.0h0.5M222.4,273.3h0.5M216.0,277.2h0.5M225.7,271.2h0.5M220.0,277.5h0.5M216.9,279.5h0.5M224.7,270.0h0.5M219.3,273.5h0.5M224.4,275.5h0.5M230.2,277.7h0.5M222.8,274.6h0.5M229.9,268.6h0.5M230.4,271.9h0.5M226.2,270.9h0.5M224.7,273.6h0.5M222.4,276.1h0.5M219.0,272.4h0.5M221.5,280.0h0.5M223.9,274.7h0.5M223.6,270.9h0.5M222.7,275.7h0.5M220.6,276.0h0.5M221.6,275.1h0.5M233.2,270.3h0.5M220.2,272.0h0.5M225.8,272.2h0.5M225.3,272.4h0.5M225.2,271.2h0.5M226.3,270.9h0.5M221.4,275.6h0.5M220.6,273.9h0.5M225.7,275.0h0.5M224.9,268.7h0.5M227.0,275.9h0.5M222.7,273.8h0.5M222.9,274.2h0.5M226.9,272.9h0.5M219.4,274.8h0.5M222.7,274.9h0.5M221.1,278.6h0.5M218.9,277.3h0.5M219.5,282.1h0.5M226.8,276.1h0.5M220.6,274.8h0.5M215.1,275.1h0.5M220.5,274.5h0.5M221.4,274.9h0.5M223.3,274.9h0.5M217.0,280.4h0.5M222.9,272.1h0.5M221.2,274.5h0.5M223.5,273.8h0.5M226.2,277.0h0.5M223.9,275.0h0.5M222.0,277.2h0.5M220.4,278.2h0.5M219.4,271.0h0.5M228.6,272.9h0.5M225.4,276.2h0.5M213.9,282.3h0.5M223.5,271.8h0.5M222.9,277.2h0.5M222.2,277.4h0.5M218.4,277.2h0.5M221.7,277.2h0.5M220.1,278.1h0.5M223.8,271.7h0.5M222.3,270.5h0.5M217.7,276.4h0.5M219.2,276.8h0.5M223.3,273.7h0.5M226.7,274.8h0.5M218.9,276.9h0.5M224.0,276.1h0.5M225.9,270.3h0.5M218.3,276.0h0.5M226.3,277.8h0.5M223.7,275.2h0.5M218.3,273.9h0.5M223.7,275.8h0.5M224.5,273.1h0.5M225.5,272.8h0.5M224.3,277.0h0.5M221.6,275.2h0.5M213.9,273.9h0.5M221.8,277.7h0.5M217.0,276.7h0.5M223.1,276.2h0.5M221.6,277.4h0.5M220.5,276.1h0.5M220.9,274.3h0.5M222.5,274.9h0.5M224.3,271.8h0.5M225.0,273.8h0.5" stroke="#333" stroke-opacity="0.45" stroke-width="0.5" fill="none"/>
</g>
<ellipse cx="217" cy="273.6" rx="6.5" ry="4" transform="rotate(0 217 273.6)" fill="url(#cg)" opacity="0.5"/>
<g filter="url(#bf)">
<path d="M216.6,274.9h0.5M216.1,272.5h0.5M217.6,274.2h0.5M213.5,276.1h0.5M217.9,271.9h0.5M218.0,275.8h0.5M216.4,273.2h0.5M214.6,273.0h0.5M216.5,275.0h0.5M213.7,272.3h0.5M217.9,275.1h0.5M214.3,272.1h0.5M218.6,274.1h0.5M221.2,274.1h0.5M214.2,271.8h0.5M216.5,273.0h0.5M217.1,275.2h0.5M213.8,273.9h0.5M220.7,275.2h0.5M220.6,273.2h0.5M214.0,273.2h0.5M218.5,275.1h0.5M211.3,273.0h0.5M214.1,272.9h0.5M211.9,273.8h0.5M214.8,276.0h0.5M216.4,273.3h0.5M215.5,275.5h0.5M217.6,276.5h0.5M218.4,272.8h0.5M221.5,272.2h0.5M217.9,273.2h0.5M217.1,275.8h0.5M220.9,272.7h0.5M216.2,275.5h0.5M220.9,272.7h0.5M213.9,272.5h0.5M222.0,273.6h0.5M218.1,274.3h0.5M215.3,271.8h0.5" stroke="#333" stroke-opacity="0.45" stroke-width="0.5" fill="none"/>
</g>
<ellipse cx="209.9" cy="291.4" rx="10.5" ry="6" transform="rotate(-40 209.9 291.4)" fill="url(#cg)" opacity="0.9"/>
<g filter="url(#bf)">
<path d="M223.1,287.4h0.5M209.4,289.9h0.5M208.6,290.2h0.5M213.5,292.5h0.5M205.3,292.9h0.5M213.5,289.8h0.5M215.2,292.8h0.5M212.0,292.1h0.5M210.3,290.6h0.5M205.7,293.1h0.5M204.9,292.3h0.5M206.3,293.5h0.5M210.8,292.5h0.5M214.8,291.3h0.5M213.5,289.8h0.5M205.5,293.1h0.5M206.3,293.2h0.5M208.7,287.9h0.5M208.1,288.6h0.5M211.8,293.6h0.5M200.0,292.8h0.5M201.4,292.3h0.5M214.3,289.3h0.5M209.0,292.2h0.5M211.0,291.7h0.5M207.6,292.8h0.5M214.9,291.3h0.5M211.5,293.4h0.5M206.9,295.2h0.5M209.1,290.2h0.5M211.2,292.1h0.5M212.5,291.4h0.5M211.5,290.4h0.5M212.2,296.0h0.5M204.3,291.4h0.5M209.4,286.8h0.5M208.9,292.9h0.5M216.3,288.4h0.5M218.0,288.0h0.5M209.0,290.1h0.5M206.5,293.3h0.5M207.5,292.5h0.5M213.2,291.5h0.5M211.3,292.1h0.5M213.7,296.1h0.5M209.0,291.3h0.5M205.3,290.6h0.5M210.8,288.4h0.5M214.0,288.9h0.5M209.3,293.9h0.5M209.0,292.6h0.5M211.0,292.1h0.5M222.9,291.0h0.5M214.9,291.0h0.5M208.9,289.7h0.5M209.9,294.0h0.5M211.7,291.3h0.5M201.1,293.5h0.5M205.4,294.3h0.5M212.0,290.2h0.5M208.7,287.2h0.5M211.7,292.2h0.5M210.9,291.4h0.5M200.5,297.4h0.5M204.0,288.7h0.5M209.1,292.2h0.5M207.5,290.0h0.5M210.0,287.8h0.5M213.3,287.0h0.5M209.4,290.8h0.5M208.1,292.3h0.5M202.5,294.7h0.5M205.9,293.9h0.5M215.1,289.4h0.5M215.1,288.1h0.5M213.8,288.2h0.5M207.3,290.4h0.5M208.5,292.9h0.5M215.0,285.4h0.5M205.7,288.9h0.5M213.4,292.2h0.5M211.1,290.3h0.5M211.5,291.7h0.5M204.4,292.9h0.5M213.6,288.7h0.5M212.7,288.3h0.5M205.7,292.7h0.5M211.3,288.9h0.5M210.6,290.1h0.5M210.5,286.8h0.5M200.6,294.1h0.5M220.4,287.9h0.5M202.1,293.3h0.5M203.8,294.6h0.5M210.9,287.5h0.5M211.9,289.4h0.5M214.2,289.7h0.5M206.3,292.6h0.5M211.3,291.6h0.5M207.1,293.0h0.5M203.5,295.4h0.5M209.5,292.3h0.5M210.1,288.4h0.5M211.2,291.1h0.5M204.9,295.1h0.5M211.5,292.8h0.5M211.7,293.1h0.5M210.5,291.4h0.5M214.1,291.0h0.5M208.3,291.3h0.5M210.1,287.8h0.5M208.8,292.8h0.5M208.5,290.8h0.5M210.9,289.7h0.5M204.0,287.9h0.5M217.7,289.2h0.5M204.8,292.5h0.5M211.7,295.6h0.5M210.0,294.5h0.5M211.8,287.9h0.5M214.3,293.3h0.5M215.8,287.8h0.5M208.4,290.8h0.5M216.3,290.3h0.5M209.8,292.6h0.5M214.8,294.5h0.5M215.9,291.7h0.5M213.8,293.7h0.5M205.9,293.8h0.5M213.4,293.8h0.5M212.5,292.0h0.5M215.2,290.5h0.5M212.0,291.2h0.5M217.5,290.0h0.5M209.8,287.3h0.5M210.2,289.9h0.5M206.8,291.9h0.5M200.3,293.9h0.5M207.2,295.3h0.5M203.9,290.7h0.5M211.7,294.1h0.5M217.6,290.7h0.5M208.3,291.3h0.5M205.1,296.2h0.5M206.7,289.8h0.5M213.9,293.6h0.5M215.0,289.9h0.5M212.0,290.7h0.5M211.7,293.0h0.5M206.0,294.0h0.5M208.3,290.5h0.5M204.7,289.5h0.5M207.2,293.4h0.5M212.9,289.6h0.5M208.5,294.1h0.5M205.7,296.0h0.5M214.8,287.7h0.5M217.8,288.1h0.5M211.3,289.4h0.5M213.9,290.8h0.5M211.4,286.4h0.5M202.7,296.4h0.5M205.8,291.0h0.5M214.9,290.7h0.5M212.8,290.7h0.5M211.2,292.2h0.5M209.8,291.4h0.5M214.7,285.3h0.5M202.2,292.5h0.5M209.9,289.4h0.5" stroke="#333" stroke-opacity="0.45" stroke-width="0.5" fill="none"/>
</g>
<ellipse cx="212.5" cy="283.5" rx="5" ry="6.5" transform="rotate(-50 212.5 283.5)" fill="url(#cg)" opacity="0.5"/>
<g filter="url(#bf)">
<path d="M214.6,280.3h0.5M214.1,284.6h0.5M209.1,281.9h0.5M214.9,284.1h0.5M215.1,280.3h0.5M207.5,284.7h0.5M210.5,282.1h0.5M211.1,286.1h0.5M209.4,286.0h0.5M214.6,283.7h0.5M208.7,281.1h0.5M216.2,279.5h0.5M211.4,287.0h0.5M209.2,284.4h0.5M215.1,284.2h0.5M212.5,284.1h0.5M212.0,282.7h0.5M216.7,282.2h0.5M214.2,279.9h0.5M211.9,284.2h0.5M209.8,282.8h0.5M211.4,285.7h0.5M212.6,285.4h0.5M210.4,285.6h0.5M215.5,282.0h0.5M213.6,286.1h0.5M208.6,281.9h0.5M211.7,287.5h0.5M212.3,282.3h0.5M209.0,287.8h0.5M213.0,285.3h0.5M214.1,280.3h0.5M213.4,283.9h0.5M212.4,285.0h0.5M212.2,282.9h0.5M211.9,281.7h0.5M217.8,281.3h0.5M213.2,281.2h0.5M213.8,283.2h0.5M211.5,281.8h0.5" stroke="#333" stroke-opacity="0.45" stroke-width="0.5" fill="none"/>
</g>
</g>
<path d="M215.5,261.3V297" stroke="#8c8c8c" stroke-width="0.7" fill="none"/>
<path d="M203.1,287.8H244" stroke="#bdbdbd" stroke-width="0.8" fill="none"/>
<path d="M203.1,261.3H244" stroke="#b4b4b4" stroke-width="1.1" fill="none"/>
<path d="M244,261.3V297" stroke="#ddd" stroke-width="0.5" fill="none"/>
<path d="M203.1,260.8V297" stroke="#666" stroke-width="0.9" fill="none"/>
<path d="M202.7,297H244" stroke="#3a3a3a" stroke-width="1.2" fill="none"/>
<text x="199.7" y="296.7" font-size="2.7" text-anchor="middle" fill="#4a4a4a" transform="rotate(-40 199.7 295.8)">10<tspan dy="-0.9" font-size="1.9">0</tspan></text>
<text x="206.3" y="302.2" font-size="2.7" text-anchor="middle" fill="#4a4a4a" transform="rotate(-40 206.3 301.4)">10<tspan dy="-0.9" font-size="1.9">0</tspan></text>
<text x="199.7" y="288.3" font-size="2.7" text-anchor="middle" fill="#4a4a4a" transform="rotate(-40 199.7 287.4)">10<tspan dy="-0.9" font-size="1.9">1</tspan></text>
<text x="215.4" y="302.2" font-size="2.7" text-anchor="middle" fill="#4a4a4a" transform="rotate(-40 215.4 301.4)">10<tspan dy="-0.9" font-size="1.9">1</tspan></text>
<text x="199.7" y="279.9" font-size="2.7" text-anchor="middle" fill="#4a4a4a" transform="rotate(-40 199.7 279.0)">10<tspan dy="-0.9" font-size="1.9">2</tspan></text>
<text x="224.5" y="302.2" font-size="2.7" text-anchor="middle" fill="#4a4a4a" transform="rotate(-40 224.5 301.4)">10<tspan dy="-0.9" font-size="1.9">2</tspan></text>
<text x="199.7" y="271.4" font-size="2.7" text-anchor="middle" fill="#4a4a4a" transform="rotate(-40 199.7 270.5)">10<tspan dy="-0.9" font-size="1.9">3</tspan></text>
<text x="233.6" y="302.2" font-size="2.7" text-anchor="middle" fill="#4a4a4a" transform="rotate(-40 233.6 301.4)">10<tspan dy="-0.9" font-size="1.9">3</tspan></text>
<text x="199.7" y="263.0" font-size="2.7" text-anchor="middle" fill="#4a4a4a" transform="rotate(-40 199.7 262.1)">10<tspan dy="-0.9" font-size="1.9">4</tspan></text>
<text x="242.7" y="302.2" font-size="2.7" text-anchor="middle" fill="#4a4a4a" transform="rotate(-40 242.7 301.4)">10<tspan dy="-0.9" font-size="1.9">4</tspan></text>
</g>
<text x="245.7" y="278.8" font-size="8.1" font-weight="bold" text-anchor="end" fill="#111" stroke="#111" stroke-width="0.25" >35%</text>
<text x="327.4" y="146.5" font-size="13.8" font-weight="bold" text-anchor="start" fill="#111" stroke="#111" stroke-width="0.45" >D</text>
<text x="408.2" y="140.8" font-size="7.0" font-weight="bold" text-anchor="middle" fill="#111" stroke="#111" stroke-width="0.14" >HDLM-2</text>
<text transform="translate(367.5,195.1) rotate(-90)" font-size="6.4" font-weight="bold" fill="#111" stroke="#111" stroke-width="0.1" textLength="47" lengthAdjust="spacingAndGlyphs">% AnnV-FITC/PI+</text>
<path d="M380.6,150.0V189.20000000000002" fill="none" stroke="#b0b0b0" stroke-width="0.7"/>
<path d="M380.6,189.00H433" fill="none" stroke="#777" stroke-width="0.6"/>
<rect x="382.7" y="184.75" width="14.7" height="4.15" fill="#fff" stroke="#111" stroke-width="0.9"/>
<rect x="399.8" y="184.75" width="14.0" height="4.15" fill="url(#hatch)" stroke="#111" stroke-width="0.9"/>
<rect x="416.6" y="159.93" width="14.2" height="28.97" fill="#1c1c1c" stroke="#111" stroke-width="0.9"/>
<path d="M423.7,159.93v-2.95" stroke="#111" stroke-width="1.2"/>
<text x="378.8" y="154.80" font-size="7.2" text-anchor="end" fill="#222" stroke="#222" stroke-width="0.1" >40</text>
<text x="378.8" y="173.25" font-size="7.2" text-anchor="end" fill="#222" stroke="#222" stroke-width="0.1" >20</text>
<text x="378.8" y="192.80" font-size="7.2" text-anchor="end" fill="#222" stroke="#222" stroke-width="0.1" >0</text>
<path d="M389.9,161.8V147.4H423.1V151.3M389.9,157.5H406.4V161.8" fill="none" stroke="#111" stroke-width="1.1"/>
<text x="406.9" y="154.2" font-size="7.5" text-anchor="middle" fill="#222" stroke="#222" stroke-width="0.1" >**</text>
<text x="397.4" y="165.6" font-size="7.4" text-anchor="middle" fill="#222" stroke="#222" stroke-width="0.1" >ns</text>
<text x="408.2" y="205.6" font-size="7.0" font-weight="bold" text-anchor="middle" fill="#111" stroke="#111" stroke-width="0.14" >L-428</text>
<text transform="translate(367.5,258.0) rotate(-90)" font-size="6.4" font-weight="bold" fill="#111" stroke="#111" stroke-width="0.1" textLength="47" lengthAdjust="spacingAndGlyphs">% AnnV-FITC/PI+</text>
<path d="M380.6,210.5V250.3" fill="none" stroke="#b0b0b0" stroke-width="0.7"/>
<path d="M380.6,250.10H433" fill="none" stroke="#777" stroke-width="0.6"/>
<rect x="382.7" y="244.38" width="14.7" height="5.62" fill="#fff" stroke="#111" stroke-width="0.9"/>
<rect x="399.8" y="244.75" width="14.0" height="5.25" fill="url(#hatch)" stroke="#111" stroke-width="0.9"/>
<rect x="416.6" y="224.50" width="14.2" height="25.50" fill="#1c1c1c" stroke="#111" stroke-width="0.9"/>
<path d="M423.7,224.50v-3.75" stroke="#111" stroke-width="1.2"/>
<text x="378.8" y="215.30" font-size="7.2" text-anchor="end" fill="#222" stroke="#222" stroke-width="0.1" >40</text>
<text x="378.8" y="234.05" font-size="7.2" text-anchor="end" fill="#222" stroke="#222" stroke-width="0.1" >20</text>
<text x="381.6" y="256.40" font-size="7.2" text-anchor="end" fill="#222" stroke="#222" stroke-width="0.1" >0</text>
<path d="M389.9,226.6V212.3H423.1V217M389.9,222.9H406.4V226.6" fill="none" stroke="#111" stroke-width="1.1"/>
<text x="406.9" y="219.8" font-size="7.5" text-anchor="middle" fill="#222" stroke="#222" stroke-width="0.1" >**</text>
<text x="397.4" y="231.2" font-size="7.4" text-anchor="middle" fill="#222" stroke="#222" stroke-width="0.1" >ns</text>
<text x="408.2" y="264.0" font-size="7.0" font-weight="bold" text-anchor="middle" fill="#111" stroke="#111" stroke-width="0.14" >KM-H2</text>
<text transform="translate(367.5,317.5) rotate(-90)" font-size="6.4" font-weight="bold" fill="#111" stroke="#111" stroke-width="0.1" textLength="47" lengthAdjust="spacingAndGlyphs">% AnnV-FITC/PI+</text>
<path d="M380.6,268.5V309.8" fill="none" stroke="#b0b0b0" stroke-width="0.7"/>
<path d="M380.6,309.60H433" fill="none" stroke="#777" stroke-width="0.6"/>
<rect x="382.7" y="307.16" width="14.7" height="2.34" fill="#fff" stroke="#111" stroke-width="0.9"/>
<rect x="399.8" y="306.38" width="14.0" height="3.12" fill="url(#hatch)" stroke="#111" stroke-width="0.9"/>
<rect x="416.6" y="276.94" width="14.2" height="32.56" fill="#1c1c1c" stroke="#111" stroke-width="0.9"/>
<path d="M423.7,276.94v-2.92" stroke="#111" stroke-width="1.2"/>
<text x="378.8" y="273.30" font-size="7.2" text-anchor="end" fill="#222" stroke="#222" stroke-width="0.1" >40</text>
<text x="378.8" y="292.80" font-size="7.2" text-anchor="end" fill="#222" stroke="#222" stroke-width="0.1" >20</text>
<text x="378.8" y="312.80" font-size="7.2" text-anchor="end" fill="#222" stroke="#222" stroke-width="0.1" >0</text>
<path d="M389.9,282.2V268.4H423.1V272.5M389.9,278H406.4V282.2" fill="none" stroke="#111" stroke-width="1.1"/>
<text x="406.9" y="274.8" font-size="7.5" text-anchor="middle" fill="#222" stroke="#222" stroke-width="0.1" >**</text>
<text x="397.4" y="286.2" font-size="7.4" text-anchor="middle" fill="#222" stroke="#222" stroke-width="0.1" >ns</text>
<rect x="443.9" y="141.3" width="3.9" height="3.7" fill="#fff" stroke="#111" stroke-width="1.1"/>
<rect x="443.9" y="148.9" width="3.9" height="3.7" fill="url(#hatch)" stroke="#111" stroke-width="1.1"/>
<rect x="443.9" y="156.4" width="3.9" height="3.7" fill="#111" stroke="#111" stroke-width="1.1"/>
<text x="450.8" y="145.6" font-size="7.1" text-anchor="start" fill="#222" stroke="#222" stroke-width="0.1" >RPMI</text>
<text x="450.8" y="153.2" font-size="7.1" text-anchor="start" fill="#222" stroke="#222" stroke-width="0.1" >DMSO</text>
<text x="450.8" y="160.8" font-size="7.1" text-anchor="start" fill="#222" stroke="#222" stroke-width="0.1" >LBH589 (0.05µM)</text>
<text x="50.6" y="381.9" font-size="14" font-weight="bold" text-anchor="start" fill="#111" stroke="#111" stroke-width="0.45" >E</text>
<text x="138.1" y="390.4" font-size="9" font-weight="bold" text-anchor="start" fill="#111" stroke="#111" stroke-width="0.25" textLength="38.1" lengthAdjust="spacingAndGlyphs">HDLM-2</text>
<text x="232.5" y="390.4" font-size="9" font-weight="bold" text-anchor="start" fill="#111" stroke="#111" stroke-width="0.25" textLength="25" lengthAdjust="spacingAndGlyphs">L-428</text>
<text x="316.3" y="390.4" font-size="9" font-weight="bold" text-anchor="start" fill="#111" stroke="#111" stroke-width="0.25" textLength="31.7" lengthAdjust="spacingAndGlyphs">KM-H2</text>
<text x="131.3" y="412.4" font-size="7.3" font-weight="bold" text-anchor="middle" fill="#111" stroke="#111" stroke-width="0.14" >0</text>
<text x="148.8" y="412.4" font-size="7.3" font-weight="bold" text-anchor="middle" fill="#111" stroke="#111" stroke-width="0.14" >0.02</text>
<text x="167" y="412.4" font-size="7.3" font-weight="bold" text-anchor="middle" fill="#111" stroke="#111" stroke-width="0.14" >0.05</text>
<text x="184.5" y="412.4" font-size="7.3" font-weight="bold" text-anchor="middle" fill="#111" stroke="#111" stroke-width="0.14" >0.1</text>
<text x="216.8" y="412.4" font-size="7.3" font-weight="bold" text-anchor="middle" fill="#111" stroke="#111" stroke-width="0.14" >0</text>
<text x="233.8" y="412.4" font-size="7.3" font-weight="bold" text-anchor="middle" fill="#111" stroke="#111" stroke-width="0.14" >0.02</text>
<text x="252" y="412.4" font-size="7.3" font-weight="bold" text-anchor="middle" fill="#111" stroke="#111" stroke-width="0.14" >0.05</text>
<text x="270" y="412.4" font-size="7.3" font-weight="bold" text-anchor="middle" fill="#111" stroke="#111" stroke-width="0.14" >0.1</text>
<text x="302.8" y="412.4" font-size="7.3" font-weight="bold" text-anchor="middle" fill="#111" stroke="#111" stroke-width="0.14" >0</text>
<text x="320.6" y="412.4" font-size="7.3" font-weight="bold" text-anchor="middle" fill="#111" stroke="#111" stroke-width="0.14" >0.02</text>
<text x="338" y="412.4" font-size="7.3" font-weight="bold" text-anchor="middle" fill="#111" stroke="#111" stroke-width="0.14" >0.05</text>
<text x="355.5" y="412.4" font-size="7.3" font-weight="bold" text-anchor="middle" fill="#111" stroke="#111" stroke-width="0.14" >0.1</text>
<text x="368.5" y="412" font-size="8.0" font-weight="bold" text-anchor="start" fill="#111" stroke="#111" stroke-width="0.14" >LBH589 (µM)</text>
<text x="376.0" y="426" font-size="7.0" text-anchor="start" fill="#222" stroke="#222" stroke-width="0.1" >Caspase 9</text>
<text x="376.0" y="441.8" font-size="7.0" text-anchor="start" fill="#222" stroke="#222" stroke-width="0.1" >PARP</text>
<text x="376.0" y="454.9" font-size="7.0" text-anchor="start" fill="#222" stroke="#222" stroke-width="0.1" >XIAP</text>
<text x="376.0" y="467.8" font-size="7.0" text-anchor="start" fill="#222" stroke="#222" stroke-width="0.1" >Bcl-2</text>
<text x="376.0" y="480.3" font-size="7.0" text-anchor="start" fill="#222" stroke="#222" stroke-width="0.1" >Beta actin</text>
<rect x="121.5" y="417.5" width="74.0" height="12.0" fill="#fff"/>
<clipPath id="bc00"><rect x="121.5" y="417.5" width="74.0" height="12.0"/></clipPath>
<g clip-path="url(#bc00)">
<rect x="121.8" y="419.50" width="19.0" height="3.20" rx="1.60" fill="#000" fill-opacity="1" filter="url(#b2)"/>
<rect x="139.3" y="419.60" width="19.0" height="3.00" rx="1.50" fill="#000" fill-opacity="1" filter="url(#b2)"/>
<rect x="157.5" y="419.40" width="19.0" height="3.00" rx="1.50" fill="#000" fill-opacity="1" filter="url(#b2)"/>
<rect x="175.0" y="419.00" width="19.0" height="3.00" rx="1.50" fill="#000" fill-opacity="1" filter="url(#b2)"/>
<rect x="143.8" y="424.90" width="10.0" height="1.20" rx="0.60" fill="#000" fill-opacity="0.15" filter="url(#b1)"/>
<rect x="160.0" y="424.30" width="14.0" height="1.60" rx="0.80" fill="#000" fill-opacity="0.25" filter="url(#b1)"/>
<rect x="177.5" y="423.80" width="14.0" height="2.00" rx="1.00" fill="#000" fill-opacity="0.85" filter="url(#b1)"/>
</g>
<rect x="121.5" y="417.5" width="74.0" height="12.0" fill="none" stroke="#111" stroke-width="1.25"/>
<rect x="121.5" y="433.5" width="74.0" height="12.0" fill="#fff"/>
<clipPath id="bc01"><rect x="121.5" y="433.5" width="74.0" height="12.0"/></clipPath>
<g clip-path="url(#bc01)">
<rect x="126.5" y="437.50" width="9.6" height="1.60" rx="0.80" fill="#000" fill-opacity="0.85" filter="url(#b1)"/>
<rect x="143.6" y="437.70" width="10.4" height="1.60" rx="0.80" fill="#000" fill-opacity="0.8" filter="url(#b1)"/>
<rect x="159.0" y="436.50" width="16.0" height="3.00" rx="1.50" fill="#000" fill-opacity="1" filter="url(#b2)"/>
<rect x="177.0" y="437.10" width="15.0" height="1.80" rx="0.90" fill="#000" fill-opacity="0.8" filter="url(#b1)"/>
<rect x="142.8" y="442.40" width="12.0" height="1.20" rx="0.60" fill="#000" fill-opacity="0.2" filter="url(#b1)"/>
<rect x="158.5" y="441.50" width="17.0" height="3.40" rx="1.70" fill="#000" fill-opacity="1" filter="url(#b2)"/>
<rect x="176.5" y="441.80" width="16.0" height="2.60" rx="1.30" fill="#000" fill-opacity="0.95" filter="url(#b1)"/>
<rect x="128.3" y="442.60" width="6.0" height="1.00" rx="0.50" fill="#000" fill-opacity="0.12" filter="url(#b1)"/>
</g>
<rect x="121.5" y="433.5" width="74.0" height="12.0" fill="none" stroke="#111" stroke-width="1.25"/>
<rect x="121.5" y="447.5" width="74.0" height="10.0" fill="#fff"/>
<clipPath id="bc02"><rect x="121.5" y="447.5" width="74.0" height="10.0"/></clipPath>
<g clip-path="url(#bc02)">
<rect x="122.8" y="450.05" width="17.0" height="2.90" rx="1.45" fill="#000" fill-opacity="1" filter="url(#b2)"/>
<rect x="141.8" y="451.05" width="14.0" height="2.50" rx="1.25" fill="#000" fill-opacity="0.95" filter="url(#b1)"/>
<rect x="160.5" y="451.30" width="13.0" height="2.20" rx="1.10" fill="#000" fill-opacity="0.9" filter="url(#b1)"/>
<rect x="177.0" y="452.30" width="15.0" height="2.00" rx="1.00" fill="#000" fill-opacity="0.45" filter="url(#b1)"/>
</g>
<rect x="121.5" y="447.5" width="74.0" height="10.0" fill="none" stroke="#111" stroke-width="1.25"/>
<rect x="121.5" y="460.5" width="74.0" height="10.0" fill="#fff"/>
<clipPath id="bc03"><rect x="121.5" y="460.5" width="74.0" height="10.0"/></clipPath>
<g clip-path="url(#bc03)">
<rect x="125.3" y="465.25" width="12.0" height="1.70" rx="0.85" fill="#000" fill-opacity="0.95" filter="url(#b1)"/>
<rect x="142.8" y="465.20" width="12.0" height="1.60" rx="0.80" fill="#000" fill-opacity="0.9" filter="url(#b1)"/>
<rect x="162.0" y="464.65" width="10.0" height="1.30" rx="0.65" fill="#000" fill-opacity="0.55" filter="url(#b1)"/>
<rect x="180.0" y="465.00" width="9.0" height="1.00" rx="0.50" fill="#000" fill-opacity="0.18" filter="url(#b1)"/>
</g>
<rect x="121.5" y="460.5" width="74.0" height="10.0" fill="none" stroke="#111" stroke-width="1.25"/>
<rect x="121.5" y="473.5" width="74.0" height="9.0" fill="#fff"/>
<clipPath id="bc04"><rect x="121.5" y="473.5" width="74.0" height="9.0"/></clipPath>
<g clip-path="url(#bc04)">
<rect x="125.8" y="477.60" width="11.0" height="1.60" rx="0.80" fill="#000" fill-opacity="0.95" filter="url(#b1)"/>
<rect x="142.8" y="477.60" width="12.0" height="1.60" rx="0.80" fill="#000" fill-opacity="0.95" filter="url(#b1)"/>
<rect x="162.0" y="477.75" width="10.0" height="1.50" rx="0.75" fill="#000" fill-opacity="0.9" filter="url(#b1)"/>
<rect x="179.0" y="477.60" width="11.0" height="1.60" rx="0.80" fill="#000" fill-opacity="0.9" filter="url(#b1)"/>
</g>
<rect x="121.5" y="473.5" width="74.0" height="9.0" fill="none" stroke="#111" stroke-width="1.25"/>
<rect x="208.5" y="417.5" width="73.0" height="12.0" fill="#fff"/>
<clipPath id="bc10"><rect x="208.5" y="417.5" width="73.0" height="12.0"/></clipPath>
<g clip-path="url(#bc10)">
<rect x="207.3" y="419.70" width="19.0" height="3.60" rx="1.80" fill="#000" fill-opacity="1" filter="url(#b2)"/>
<rect x="224.3" y="419.90" width="19.0" height="3.20" rx="1.60" fill="#000" fill-opacity="1" filter="url(#b2)"/>
<rect x="242.5" y="420.00" width="19.0" height="3.00" rx="1.50" fill="#000" fill-opacity="1" filter="url(#b2)"/>
<rect x="260.5" y="419.60" width="19.0" height="3.40" rx="1.70" fill="#000" fill-opacity="1" filter="url(#b2)"/>
<rect x="246.0" y="425.30" width="12.0" height="1.20" rx="0.60" fill="#000" fill-opacity="0.25" filter="url(#b1)"/>
<rect x="263.0" y="424.90" width="14.0" height="2.00" rx="1.00" fill="#000" fill-opacity="0.85" filter="url(#b1)"/>
<rect x="211.8" y="425.60" width="10.0" height="1.00" rx="0.50" fill="#000" fill-opacity="0.1" filter="url(#b1)"/>
</g>
<rect x="208.5" y="417.5" width="73.0" height="12.0" fill="none" stroke="#111" stroke-width="1.25"/>
<rect x="208.5" y="433.5" width="73.0" height="12.0" fill="#fff"/>
<clipPath id="bc11"><rect x="208.5" y="433.5" width="73.0" height="12.0"/></clipPath>
<g clip-path="url(#bc11)">
<rect x="211.3" y="437.90" width="11.0" height="2.00" rx="1.00" fill="#000" fill-opacity="0.95" filter="url(#b1)"/>
<rect x="227.8" y="437.20" width="12.0" height="1.80" rx="0.90" fill="#000" fill-opacity="0.95" filter="url(#b1)"/>
<rect x="245.0" y="436.50" width="14.0" height="2.00" rx="1.00" fill="#000" fill-opacity="1" filter="url(#b1)"/>
<rect x="263.0" y="436.50" width="14.0" height="2.00" rx="1.00" fill="#000" fill-opacity="1" filter="url(#b1)"/>
<rect x="214.3" y="442.40" width="5.0" height="1.00" rx="0.50" fill="#000" fill-opacity="0.2" filter="url(#b1)"/>
<rect x="227.3" y="441.30" width="13.0" height="2.00" rx="1.00" fill="#000" fill-opacity="0.9" filter="url(#b1)"/>
<rect x="244.5" y="440.50" width="15.0" height="2.40" rx="1.20" fill="#000" fill-opacity="1" filter="url(#b1)"/>
<rect x="262.5" y="440.50" width="15.0" height="2.40" rx="1.20" fill="#000" fill-opacity="1" filter="url(#b1)"/>
</g>
<rect x="208.5" y="433.5" width="73.0" height="12.0" fill="none" stroke="#111" stroke-width="1.25"/>
<rect x="208.5" y="447.5" width="73.0" height="10.0" fill="#fff"/>
<clipPath id="bc12"><rect x="208.5" y="447.5" width="73.0" height="10.0"/></clipPath>
<g clip-path="url(#bc12)">
<rect x="209.8" y="450.40" width="14.0" height="3.00" rx="1.50" fill="#000" fill-opacity="1" filter="url(#b2)"/>
<rect x="226.8" y="451.10" width="14.0" height="2.40" rx="1.20" fill="#000" fill-opacity="0.7" filter="url(#b1)"/>
<rect x="245.5" y="451.20" width="13.0" height="2.20" rx="1.10" fill="#000" fill-opacity="0.4" filter="url(#b1)"/>
<rect x="264.0" y="451.30" width="12.0" height="2.00" rx="1.00" fill="#000" fill-opacity="0.25" filter="url(#b1)"/>
</g>
<rect x="208.5" y="447.5" width="73.0" height="10.0" fill="none" stroke="#111" stroke-width="1.25"/>
<rect x="208.5" y="460.5" width="73.0" height="10.0" fill="#fff"/>
<clipPath id="bc13"><rect x="208.5" y="460.5" width="73.0" height="10.0"/></clipPath>
<g clip-path="url(#bc13)">
<rect x="211.8" y="464.25" width="10.0" height="1.30" rx="0.65" fill="#000" fill-opacity="0.75" filter="url(#b1)"/>
<rect x="228.3" y="464.35" width="11.0" height="1.50" rx="0.75" fill="#000" fill-opacity="0.8" filter="url(#b1)"/>
<rect x="247.5" y="464.85" width="9.0" height="1.30" rx="0.65" fill="#000" fill-opacity="0.7" filter="url(#b1)"/>
<rect x="266.5" y="464.95" width="7.0" height="1.10" rx="0.55" fill="#000" fill-opacity="0.55" filter="url(#b1)"/>
</g>
<rect x="208.5" y="460.5" width="73.0" height="10.0" fill="none" stroke="#111" stroke-width="1.25"/>
<rect x="208.5" y="473.5" width="73.0" height="9.0" fill="#fff"/>
<clipPath id="bc14"><rect x="208.5" y="473.5" width="73.0" height="9.0"/></clipPath>
<g clip-path="url(#bc14)">
<rect x="210.8" y="477.60" width="12.0" height="1.60" rx="0.80" fill="#000" fill-opacity="0.95" filter="url(#b1)"/>
<rect x="227.8" y="477.40" width="12.0" height="1.60" rx="0.80" fill="#000" fill-opacity="0.95" filter="url(#b1)"/>
<rect x="246.5" y="477.55" width="11.0" height="1.50" rx="0.75" fill="#000" fill-opacity="0.9" filter="url(#b1)"/>
<rect x="264.5" y="477.55" width="11.0" height="1.50" rx="0.75" fill="#000" fill-opacity="0.9" filter="url(#b1)"/>
</g>
<rect x="208.5" y="473.5" width="73.0" height="9.0" fill="none" stroke="#111" stroke-width="1.25"/>
<rect x="294.5" y="417.5" width="73.0" height="12.0" fill="#fff"/>
<clipPath id="bc20"><rect x="294.5" y="417.5" width="73.0" height="12.0"/></clipPath>
<g clip-path="url(#bc20)">
<rect x="292.8" y="417.80" width="20.0" height="6.20" rx="3.10" fill="#000" fill-opacity="1" filter="url(#b2)"/>
<rect x="310.6" y="418.00" width="20.0" height="5.80" rx="2.90" fill="#000" fill-opacity="1" filter="url(#b2)"/>
<rect x="328.0" y="418.00" width="20.0" height="4.80" rx="2.40" fill="#000" fill-opacity="1" filter="url(#b2)"/>
<rect x="345.5" y="417.90" width="20.0" height="5.00" rx="2.50" fill="#000" fill-opacity="1" filter="url(#b2)"/>
<rect x="314.6" y="425.80" width="12.0" height="1.40" rx="0.70" fill="#000" fill-opacity="0.25" filter="url(#b1)"/>
<rect x="331.5" y="425.10" width="13.0" height="2.00" rx="1.00" fill="#000" fill-opacity="0.8" filter="url(#b1)"/>
<rect x="348.0" y="424.80" width="15.0" height="2.40" rx="1.20" fill="#000" fill-opacity="0.95" filter="url(#b1)"/>
<rect x="296.8" y="426.10" width="12.0" height="1.20" rx="0.60" fill="#000" fill-opacity="0.2" filter="url(#b1)"/>
</g>
<rect x="294.5" y="417.5" width="73.0" height="12.0" fill="none" stroke="#111" stroke-width="1.25"/>
<rect x="294.5" y="433.5" width="73.0" height="12.0" fill="#fff"/>
<clipPath id="bc21"><rect x="294.5" y="433.5" width="73.0" height="12.0"/></clipPath>
<g clip-path="url(#bc21)">
<rect x="295.8" y="436.60" width="14.0" height="1.80" rx="0.90" fill="#000" fill-opacity="0.9" filter="url(#b1)"/>
<rect x="313.6" y="436.20" width="14.0" height="1.80" rx="0.90" fill="#000" fill-opacity="0.9" filter="url(#b1)"/>
<rect x="332.0" y="436.10" width="12.0" height="1.60" rx="0.80" fill="#000" fill-opacity="0.85" filter="url(#b1)"/>
<rect x="349.5" y="436.30" width="12.0" height="1.60" rx="0.80" fill="#000" fill-opacity="0.85" filter="url(#b1)"/>
<rect x="296.8" y="441.90" width="12.0" height="1.20" rx="0.60" fill="#000" fill-opacity="0.2" filter="url(#b1)"/>
<rect x="314.1" y="441.30" width="13.0" height="1.60" rx="0.80" fill="#000" fill-opacity="0.55" filter="url(#b1)"/>
<rect x="331.5" y="440.70" width="13.0" height="1.60" rx="0.80" fill="#000" fill-opacity="0.75" filter="url(#b1)"/>
<rect x="349.0" y="440.60" width="13.0" height="1.80" rx="0.90" fill="#000" fill-opacity="0.85" filter="url(#b1)"/>
</g>
<rect x="294.5" y="433.5" width="73.0" height="12.0" fill="none" stroke="#111" stroke-width="1.25"/>
<rect x="294.5" y="447.5" width="73.0" height="10.0" fill="#fff"/>
<clipPath id="bc22"><rect x="294.5" y="447.5" width="73.0" height="10.0"/></clipPath>
<g clip-path="url(#bc22)">
<rect x="295.3" y="450.20" width="15.0" height="3.00" rx="1.50" fill="#000" fill-opacity="1" filter="url(#b2)"/>
<rect x="314.1" y="450.90" width="13.0" height="2.40" rx="1.20" fill="#000" fill-opacity="0.85" filter="url(#b1)"/>
<rect x="332.0" y="451.50" width="12.0" height="2.00" rx="1.00" fill="#000" fill-opacity="0.35" filter="url(#b1)"/>
<rect x="350.0" y="451.60" width="11.0" height="1.80" rx="0.90" fill="#000" fill-opacity="0.2" filter="url(#b1)"/>
</g>
<rect x="294.5" y="447.5" width="73.0" height="10.0" fill="none" stroke="#111" stroke-width="1.25"/>
<rect x="294.5" y="459.5" width="73.0" height="10.0" fill="#fff"/>
<clipPath id="bc23"><rect x="294.5" y="459.5" width="73.0" height="10.0"/></clipPath>
<g clip-path="url(#bc23)">
<rect x="297.8" y="462.30" width="10.0" height="1.60" rx="0.80" fill="#000" fill-opacity="0.7" filter="url(#b1)"/>
<rect x="315.1" y="462.90" width="11.0" height="1.60" rx="0.80" fill="#000" fill-opacity="0.6" filter="url(#b1)"/>
<rect x="332.5" y="462.40" width="11.0" height="1.80" rx="0.90" fill="#000" fill-opacity="0.7" filter="url(#b1)"/>
<rect x="350.5" y="463.40" width="10.0" height="1.40" rx="0.70" fill="#000" fill-opacity="0.4" filter="url(#b1)"/>
</g>
<rect x="294.5" y="459.5" width="73.0" height="10.0" fill="none" stroke="#111" stroke-width="1.25"/>
<rect x="294.5" y="472.5" width="73.0" height="10.0" fill="#fff"/>
<clipPath id="bc24"><rect x="294.5" y="472.5" width="73.0" height="10.0"/></clipPath>
<g clip-path="url(#bc24)">
<rect x="296.8" y="476.60" width="12.0" height="1.60" rx="0.80" fill="#000" fill-opacity="0.95" filter="url(#b1)"/>
<rect x="314.6" y="476.70" width="12.0" height="1.60" rx="0.80" fill="#000" fill-opacity="0.95" filter="url(#b1)"/>
<rect x="332.0" y="476.55" width="12.0" height="1.70" rx="0.85" fill="#000" fill-opacity="0.95" filter="url(#b1)"/>
<rect x="349.5" y="476.30" width="12.0" height="1.80" rx="0.90" fill="#000" fill-opacity="0.95" filter="url(#b1)"/>
</g>
<rect x="294.5" y="472.5" width="73.0" height="10.0" fill="none" stroke="#111" stroke-width="1.25"/>
</svg>
</body></html>
